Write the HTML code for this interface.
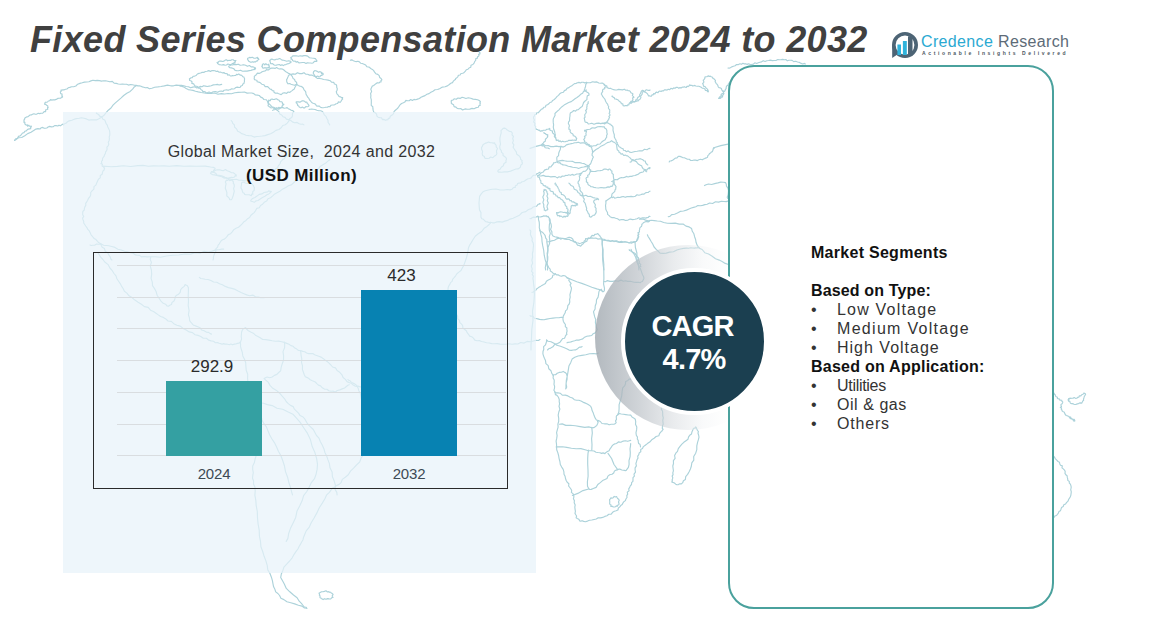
<!DOCTYPE html>
<html><head><meta charset="utf-8">
<style>
html,body{margin:0;padding:0;}
body{width:1162px;height:617px;position:relative;overflow:hidden;background:#fff;font-family:"Liberation Sans",sans-serif;}
.abs{position:absolute;}
#title{left:30px;top:19px;font-size:36px;font-weight:bold;font-style:italic;color:#404040;white-space:nowrap;letter-spacing:0.34px;}
#panel{left:63px;top:112px;width:473px;height:461px;background:rgba(232,242,250,0.72);}
#ct1{left:65px;width:473px;top:143px;letter-spacing:0.36px;text-align:center;font-size:16px;color:#333;white-space:nowrap;}
#ct2{left:65px;width:473px;top:166px;text-align:center;font-size:17px;letter-spacing:0.4px;font-weight:bold;color:#111;white-space:nowrap;}
#chart{left:93px;top:252px;width:413px;height:235px;border:1px solid #2a2a2a;}
.grid{position:absolute;left:117px;width:389px;height:1px;background:#d9dde0;}
.bar{position:absolute;}
.val{position:absolute;font-size:17px;color:#2a2a2a;text-align:center;width:120px;}
.yr{position:absolute;font-size:15px;color:#3d4a55;text-align:center;width:120px;letter-spacing:-0.2px;}
#card{left:728px;top:65px;width:322px;height:540px;border:2px solid #4aa19d;border-radius:26px;background:#fff;}
#seg{left:811px;top:243px;font-size:16px;color:#333;line-height:19.03px;white-space:nowrap;}
#seg b{font-weight:bold;}
#seg .it{position:relative;}
#seg .bl{display:inline-block;width:26px;}
#cres{left:595.1px;top:244.7px;width:185.6px;height:185.6px;border-radius:50%;background:linear-gradient(90deg,rgba(160,168,175,.8) 0%,rgba(185,191,197,.7) 22%,rgba(215,219,223,.55) 42%,rgba(240,242,244,.4) 58%,rgba(255,255,255,0) 72%);}
#ring{left:620.7px;top:268.2px;width:139px;height:139px;border-radius:50%;background:#1b3f50;border:4px solid #fff;}
#cagr1{left:622.5px;width:140px;top:309.5px;text-align:center;color:#fff;font-weight:bold;font-size:29px;letter-spacing:-0.8px;}
#cagr2{left:624px;width:140px;top:343px;text-align:center;color:#fff;font-weight:bold;font-size:29px;letter-spacing:-0.8px;}
#logo1{left:921px;top:33px;font-size:16px;white-space:nowrap;letter-spacing:0.35px;}
#logo2{left:922px;top:50px;font-size:5px;font-weight:bold;color:#4b5560;letter-spacing:2.63px;white-space:nowrap;}
</style></head>
<body>
<svg class="abs" id="map" style="left:0;top:0" width="1162" height="617" viewBox="0 0 1162 617"><g fill="none" stroke="#acd2da" stroke-width="1.15" stroke-linejoin="round" stroke-linecap="round"><path d="M14.5 140.5 L15.1 139.7 L15.9 138.7 L17.6 138.2 L18.4 136.4 L20.3 135.8 L21.5 134.4 L22.6 133.0 L24.1 132.6 L24.8 131.2 L26.3 130.9 L27.2 129.8 L28.3 129.1 L29.5 128.9 L30.7 128.7 L30.6 127.5 L30.9 127.3 L31.4 126.7 L31.2 126.0 L30.3 126.2 L29.5 126.2 L28.9 125.2 L27.6 126.2 L27.4 124.9 L26.3 125.1 L25.7 124.7 L25.1 124.2 L24.8 123.4 L24.9 122.4 L23.8 122.2 L24.1 121.3 L24.1 120.8 L23.9 120.0 L24.6 119.4 L24.7 118.2 L25.6 117.5 L26.7 116.9 L28.1 116.7 L29.0 115.8 L30.1 115.0 L31.4 114.9 L32.5 114.3 L33.9 113.8 L35.4 114.3 L36.8 114.1 L38.3 113.3 L39.7 113.6 L41.0 113.2 L42.4 113.3 L43.4 112.6 L44.1 111.5 L45.6 111.6 L45.7 109.9 L46.8 109.5 L47.8 109.1 L47.5 108.0 L48.2 107.5 L47.6 107.3 L47.9 106.2 L47.3 105.5 L46.4 105.2 L45.9 104.3 L44.7 104.3 L44.9 103.7 L44.7 103.3 L45.0 102.8 L45.5 102.2 L46.5 102.3 L47.5 102.0 L48.3 101.0 L49.6 100.8 L50.5 99.6 L51.9 100.1 L53.1 99.7 L54.7 99.9 L56.2 99.4 L57.7 98.4 L59.3 98.2 L60.8 98.3 L61.5 97.1 L62.6 97.1 L62.5 96.6 L62.3 96.1 L61.9 95.4 L62.1 94.0 L60.7 93.6 L60.4 92.7 L60.4 91.8 L61.1 91.5 L61.0 90.1 L62.0 90.1 L63.0 89.8 L64.3 89.8 L65.5 89.3 L66.9 89.0 L68.2 87.8 L69.8 87.4 L71.6 86.7 L73.7 86.7 L75.9 86.0 L77.7 84.2 L79.9 83.4 L82.2 82.8 L84.5 82.1 L86.7 82.0 L88.9 81.7 L90.9 80.9 L93.0 80.2 L95.2 80.6 L97.3 80.4 L99.4 80.6 L101.5 81.1 L103.6 80.8 L105.7 80.8 L107.8 81.2 L109.9 81.8 L112.3 81.4 L114.1 83.1 L116.3 83.4 L118.3 84.0 L120.4 84.3 L122.5 84.1 L124.6 84.3 L126.6 84.2 L128.5 85.1 L130.6 84.5 L132.5 84.8 L134.4 85.2 L136.2 85.4 L137.9 85.9 L139.5 85.9 L141.0 86.3 L142.4 86.9 L143.8 87.2 L145.4 87.8 L147.3 87.5 L149.4 88.8 L151.9 88.2 L154.7 87.2 L157.8 86.9 L161.0 86.5 L164.3 85.9 L167.5 85.1 L170.7 85.8 L173.5 85.8 L176.2 85.1 L178.8 85.4 L181.4 85.2 L183.8 85.7 L186.1 86.5 L188.4 86.8 L190.6 87.8 L192.8 87.1 L194.8 86.8 L196.8 88.0 L198.6 87.2 L200.2 86.4 L202.0 86.7 L203.6 85.7 L205.5 86.1 L207.3 86.5 L209.2 86.1 L211.2 85.7 L213.3 84.9 L215.3 84.8 L217.3 84.4 L219.1 85.0 L220.6 84.6 L221.7 84.4"/><path d="M136.1 85.8 L134.3 86.9 L132.6 89.2 L130.2 91.4 L126.8 93.2 L123.7 95.5 L120.9 98.1 L118.0 100.6 L115.4 102.9 L113.0 105.2 L111.0 108.0 L108.3 110.2 L106.1 112.7 L104.0 115.3 L101.5 117.3 L98.9 118.7 L96.5 119.9 L93.9 119.9 L91.5 119.7 L88.8 120.1 L86.4 118.9 L84.0 118.3 L81.5 117.8 L79.2 118.3 L77.2 118.5 L75.3 118.9 L73.6 119.5 L71.9 120.2 L70.1 120.6 L68.4 121.1 L67.2 122.0 L66.2 123.1 L65.0 123.5 L64.0 123.7 L63.8 124.9 L63.0 124.4 L62.5 124.2 L62.2 124.5 L61.7 124.7 L61.1 125.2 L60.3 125.8 L59.0 125.2 L57.8 126.0 L56.2 125.6 L54.6 125.6 L53.1 126.7 L51.4 126.9 L49.6 126.4 L48.1 127.0 L46.8 128.0 L45.5 128.2 L44.2 128.3 L42.7 127.4 L41.3 127.7 L40.0 129.0 L38.0 128.6 L35.9 129.1 L33.7 130.5 L31.0 132.3 L27.7 133.6 L24.8 135.7 L21.7 137.5 L18.3 137.8 L16.1 139.5 L14.5 140.5"/><path d="M190.3 78.4 L191.0 77.8 L192.2 77.6 L193.1 76.3 L194.7 76.1 L196.2 75.4 L197.4 74.0 L199.0 73.4 L200.6 73.0 L202.1 72.4 L203.8 72.4 L205.3 71.5 L207.1 71.3 L208.7 70.6 L210.5 71.4 L212.0 70.5 L213.6 70.6 L215.0 70.8 L216.3 71.5 L217.8 71.1 L218.9 72.2 L220.3 72.0 L221.5 72.5 L222.7 72.9 L224.1 72.6 L225.0 73.5 L226.2 73.6 L227.3 73.7 L227.8 75.2 L229.0 74.7 L229.8 75.4 L230.6 76.0 L231.6 75.9 L232.6 75.6 L233.6 75.7 L234.7 75.5 L235.8 75.5 L236.5 74.3 L237.6 74.7 L238.6 74.1 L239.5 74.2 L240.1 75.1 L241.0 75.1 L241.8 75.5 L242.4 76.2 L242.9 76.8 L243.9 77.0 L244.1 77.7 L244.5 78.4 L244.6 79.2 L244.4 80.1 L244.5 81.3 L244.2 82.3 L243.9 83.5 L242.8 84.1 L242.5 85.2 L241.7 85.7 L240.8 86.1 L240.0 87.5 L238.6 87.4 L237.2 87.1 L235.8 87.5 L234.5 88.7 L233.1 89.0 L231.7 88.8 L230.5 89.6 L229.3 89.8 L228.2 90.3 L226.7 89.9 L225.5 90.0 L224.1 90.2 L222.9 91.5 L221.3 91.0 L219.5 91.3 L217.6 92.3 L215.4 91.6 L213.2 91.7 L211.1 92.9 L209.1 92.0 L207.3 92.8 L205.8 92.6 L205.0 91.7 L204.1 91.6 L202.9 91.9 L202.7 91.1 L202.3 90.5 L201.7 90.1 L201.1 89.6 L200.5 88.9 L199.9 87.9 L198.4 88.1 L197.8 86.8 L196.6 86.3 L195.2 86.1 L194.4 85.1 L193.8 84.1 L192.9 83.6 L191.8 83.4 L192.1 81.8 L191.3 81.4 L191.1 80.7 L189.6 80.5 L189.6 79.7 L189.4 78.8 L190.3 78.4 Z"/><path d="M217.4 62.4 L218.1 62.5 L218.7 61.5 L219.8 61.0 L221.1 61.1 L222.6 61.5 L224.0 61.1 L225.2 60.1 L226.4 59.8 L227.7 60.8 L229.0 60.3 L230.4 60.5 L231.8 59.7 L233.1 59.7 L234.1 60.7 L235.0 60.5 L236.0 60.5 L235.1 61.0 L235.4 61.5 L235.0 61.7 L235.1 63.0 L233.9 62.6 L233.6 64.1 L232.4 63.4 L231.6 64.3 L230.6 64.6 L229.4 64.5 L227.9 64.0 L226.5 65.0 L225.0 65.2 L223.6 64.6 L222.3 64.9 L221.2 65.0 L220.3 64.8 L219.4 64.7 L218.7 64.2 L218.0 63.8 L217.5 63.5 L217.7 62.9 L217.0 62.5 L217.4 62.4 Z"/><path d="M229.1 66.0 L229.7 65.7 L230.8 65.0 L232.4 65.0 L234.2 64.4 L236.2 64.6 L238.3 64.2 L240.2 65.2 L242.0 65.0 L243.7 64.7 L245.6 65.3 L247.4 66.3 L249.5 65.5 L251.1 66.9 L252.8 66.7 L254.0 67.2 L254.6 67.9 L255.5 67.8 L255.6 68.3 L255.4 68.5 L255.0 68.5 L255.0 69.6 L254.1 69.2 L253.3 69.7 L252.3 69.9 L250.9 70.4 L249.2 70.6 L247.1 71.1 L244.9 71.1 L242.6 71.2 L240.5 70.2 L238.4 70.7 L236.7 70.6 L235.1 70.4 L234.0 68.9 L232.6 68.3 L231.3 67.9 L229.9 67.8 L229.1 67.1 L228.7 66.4 L229.1 66.0 Z"/><path d="M247.6 58.3 L248.4 58.0 L249.5 57.4 L250.9 57.6 L252.4 57.3 L254.0 58.2 L255.4 58.2 L256.6 57.7 L257.6 57.4 L257.4 58.4 L258.5 58.3 L258.5 58.8 L258.9 59.5 L258.2 59.8 L257.8 60.2 L257.4 60.6 L257.1 61.2 L256.3 61.0 L255.6 61.9 L254.5 61.7 L253.4 62.1 L252.3 61.7 L251.3 62.2 L250.3 62.1 L249.6 61.6 L248.9 61.4 L248.6 60.7 L248.1 60.3 L247.9 59.7 L247.5 59.3 L247.5 59.0 L247.6 59.0 L247.6 58.3 Z"/><path d="M262.6 64.2 L263.1 63.9 L263.9 63.8 L264.8 64.8 L265.9 63.7 L266.8 64.6 L267.7 64.7 L268.8 64.2 L268.7 65.3 L268.8 65.5 L269.3 65.7 L269.2 66.1 L269.0 66.4 L269.7 67.3 L268.9 67.5 L268.6 67.8 L268.2 67.6 L267.8 67.8 L267.2 67.8 L266.5 68.2 L265.8 67.7 L265.0 67.9 L264.3 67.7 L263.4 68.1 L262.7 68.0 L262.4 67.5 L262.3 66.9 L261.8 66.5 L262.6 65.7 L262.2 65.3 L262.3 64.9 L262.4 64.6 L262.6 64.2 Z"/><path d="M254.9 75.8 L255.7 75.3 L256.5 74.4 L257.4 73.1 L259.2 73.4 L260.7 72.7 L262.1 71.8 L263.7 71.2 L265.3 70.9 L266.5 69.6 L268.4 70.0 L269.9 68.8 L271.5 68.1 L273.3 68.0 L275.0 68.4 L276.6 67.6 L278.1 68.4 L279.4 69.0 L280.9 68.7 L282.4 69.1 L283.6 69.8 L284.7 70.8 L285.9 71.7 L287.2 72.4 L288.3 73.4 L290.0 73.9 L291.2 75.2 L292.4 76.6 L293.0 78.4 L294.6 79.5 L295.1 81.1 L296.5 82.2 L296.8 83.5 L296.5 84.8 L295.8 85.7 L295.3 86.7 L294.7 87.8 L294.3 89.1 L293.1 89.8 L292.1 90.6 L291.0 91.4 L289.9 92.4 L288.1 92.0 L286.6 93.4 L284.6 92.7 L282.8 93.1 L281.2 94.6 L279.5 94.0 L278.2 93.5 L277.2 93.0 L275.9 93.3 L274.8 92.9 L274.0 92.2 L273.8 90.7 L272.3 90.7 L271.6 89.4 L270.1 89.2 L268.9 87.9 L267.5 86.5 L265.2 86.6 L263.8 84.7 L261.8 84.2 L260.4 82.8 L258.8 82.1 L257.2 81.8 L256.9 80.3 L255.8 80.0 L254.6 79.6 L254.1 78.8 L254.4 77.8 L254.3 77.2 L254.3 76.4 L254.9 75.8 Z"/><path d="M288.4 75.8 L289.5 74.7 L291.2 74.4 L293.1 73.9 L295.3 74.2 L297.4 72.7 L299.7 73.6 L301.9 73.6 L304.0 72.7 L305.7 74.1 L307.7 74.3 L309.5 75.1 L311.8 75.1 L313.7 76.0 L315.6 76.8 L317.2 78.4 L319.4 78.5 L321.5 78.8 L323.6 79.5 L325.9 79.8 L328.1 80.1 L330.2 80.7 L331.7 82.3 L333.8 82.4 L334.4 84.0 L336.1 84.5 L336.7 85.8 L336.7 87.3 L337.3 88.7 L337.1 90.2 L336.3 91.6 L336.6 93.0 L337.1 94.1 L338.0 94.9 L338.6 96.0 L339.5 96.7 L340.7 96.9 L341.4 97.6 L342.7 97.5 L342.3 98.5 L342.7 99.1 L342.1 99.5 L341.6 100.2 L341.0 101.3 L340.1 102.3 L338.3 101.9 L337.6 103.5 L336.1 103.7 L335.0 104.4 L333.9 105.0 L332.4 105.0 L331.0 105.2 L330.0 106.6 L328.5 106.5 L327.3 107.3 L325.9 107.2 L324.6 107.5 L323.2 107.7 L321.9 107.6 L320.5 107.3 L319.4 106.0 L317.9 106.1 L316.5 106.0 L315.7 104.5 L314.7 103.7 L313.1 103.3 L311.7 102.5 L310.7 101.2 L309.6 100.0 L308.9 98.4 L307.7 97.2 L307.0 95.8 L306.2 94.6 L305.9 93.2 L305.7 91.9 L305.0 90.8 L304.1 89.9 L303.6 88.8 L303.1 87.8 L302.2 87.0 L301.3 86.4 L299.9 86.2 L298.3 85.5 L296.6 84.3 L294.5 85.3 L292.7 84.7 L291.0 84.3 L289.7 83.6 L288.1 83.8 L287.4 83.0 L286.8 82.0 L286.7 80.8 L286.6 79.7 L287.3 78.7 L287.5 77.8 L288.0 77.0 L288.4 75.8 Z"/><path d="M270.4 60.3 L270.9 59.4 L271.9 59.1 L273.3 59.8 L274.8 59.9 L276.2 59.2 L277.8 59.3 L279.4 58.5 L280.7 59.1 L282.0 60.1 L283.6 60.2 L285.2 60.7 L286.8 61.2 L288.6 60.8 L289.9 61.1 L290.9 61.6 L291.0 62.4 L290.8 62.6 L290.2 62.6 L289.4 63.3 L288.4 63.7 L287.1 63.9 L285.8 64.6 L284.5 64.7 L283.3 65.6 L282.0 64.7 L280.7 65.5 L279.3 64.5 L277.8 64.8 L276.3 65.1 L274.9 65.2 L273.8 64.8 L273.0 64.0 L272.3 63.6 L271.1 63.8 L270.4 63.2 L270.4 62.3 L270.2 61.7 L269.8 61.1 L269.7 60.4 L270.4 60.3 Z"/><path d="M291.0 57.2 L291.8 57.0 L292.8 55.8 L294.5 55.9 L296.3 55.8 L298.3 56.3 L300.3 55.8 L302.1 56.1 L303.9 55.6 L305.8 55.6 L307.7 56.1 L309.5 57.7 L311.6 58.0 L313.6 58.2 L315.4 58.6 L316.2 59.8 L316.6 60.4 L317.0 60.9 L316.6 61.5 L315.6 61.4 L314.4 61.4 L313.4 62.7 L312.0 63.2 L310.5 63.0 L309.1 63.0 L307.7 62.7 L306.0 63.4 L304.3 62.5 L302.5 62.5 L300.7 62.7 L298.9 62.9 L297.6 61.6 L296.1 62.1 L295.2 61.0 L293.7 61.2 L292.6 60.6 L292.2 59.3 L291.0 59.1 L291.5 58.1 L290.7 57.7 L291.0 57.2 Z"/><path d="M314.3 71.2 L314.8 70.6 L315.7 70.7 L316.7 71.1 L317.7 71.7 L318.7 72.3 L320.1 71.6 L320.9 72.3 L321.7 72.4 L321.4 73.5 L322.7 73.2 L323.1 73.7 L323.2 74.3 L322.8 74.8 L322.0 74.9 L322.0 75.1 L321.9 75.5 L321.3 75.4 L320.6 75.7 L319.9 76.7 L318.9 77.0 L317.9 76.1 L317.0 76.3 L315.9 77.2 L315.7 76.2 L314.9 76.0 L314.5 75.4 L314.1 74.6 L313.6 73.8 L313.2 72.9 L313.6 72.1 L313.8 71.4 L314.3 71.2 Z"/><path d="M267.8 101.6 L268.6 101.6 L268.7 100.1 L270.2 100.7 L270.9 99.3 L272.1 99.1 L273.4 99.5 L274.5 99.4 L275.5 99.0 L276.8 98.8 L277.8 99.8 L279.1 100.3 L279.9 101.7 L281.6 101.7 L282.4 102.7 L282.4 103.8 L283.9 104.2 L283.4 104.9 L282.6 105.1 L282.2 105.7 L282.0 107.1 L281.1 107.6 L280.1 108.0 L278.8 107.3 L278.2 108.4 L277.2 107.9 L276.2 107.8 L275.2 108.6 L274.0 108.6 L273.1 107.5 L272.0 107.8 L271.0 108.0 L270.5 107.1 L269.5 107.0 L268.9 106.4 L268.0 105.7 L268.4 104.5 L268.3 103.6 L267.8 103.0 L268.2 102.4 L267.8 101.6 Z"/><path d="M296.2 102.9 L296.2 101.9 L297.1 101.8 L298.2 101.8 L299.5 102.1 L300.7 101.9 L301.9 100.9 L303.0 100.7 L304.0 101.0 L304.8 101.4 L305.4 102.3 L306.9 102.1 L307.2 103.4 L308.0 104.0 L308.4 104.7 L308.7 105.0 L309.0 105.4 L308.8 106.1 L308.1 106.5 L307.1 106.8 L305.8 106.6 L304.7 107.8 L303.4 107.8 L302.3 107.1 L301.2 107.7 L300.2 107.6 L299.2 107.1 L298.7 106.0 L297.6 105.5 L297.6 104.2 L297.0 103.7 L296.9 103.4 L296.2 102.9 Z"/><path d="M180.0 86.1 L181.2 86.3 L182.8 86.6 L184.4 87.3 L186.1 88.6 L188.2 89.6 L190.5 90.0 L193.0 90.4 L195.5 91.2 L198.2 91.9 L201.2 92.5 L204.4 93.0 L207.7 93.5 L211.2 93.5 L214.6 93.0 L218.0 94.2 L221.3 93.6 L224.6 94.0 L228.0 93.5 L231.5 93.7 L234.8 92.7 L238.2 92.4 L241.4 92.2 L244.4 92.0 L247.1 93.1 L249.6 93.0 L251.8 93.0 L253.8 93.6 L255.4 95.0 L257.4 95.1 L259.3 95.5 L260.7 97.1 L262.5 97.9 L263.9 99.5 L266.4 99.8 L267.7 101.7 L268.9 103.6 L270.5 105.2 L272.0 106.8 L274.4 107.5 L275.7 109.2 L277.5 110.4 L279.0 111.9 L279.8 114.1 L281.7 115.0 L283.0 116.7 L285.1 117.4 L286.4 119.1 L288.5 119.6 L290.5 120.3 L292.4 121.9 L294.6 122.8 L297.1 122.4 L299.1 123.7 L301.0 124.2 L302.8 124.1 L303.9 124.9"/><path d="M309.1 109.4 L310.1 109.3 L311.6 109.1 L313.2 109.3 L315.1 109.5 L316.9 110.3 L318.8 110.7 L320.7 110.8 L322.5 111.5 L323.5 113.0 L324.3 114.9 L326.0 116.4 L326.9 118.5 L328.0 120.3 L328.1 122.5 L329.1 123.8 L329.7 124.9"/><path d="M350.4 60.3 L351.3 59.9 L352.3 60.1 L353.4 60.7 L354.7 61.2 L356.2 61.6 L357.9 61.3 L359.4 61.9 L360.6 63.2 L362.3 63.5 L364.0 64.2 L365.7 65.1 L367.0 66.8 L369.2 67.1 L370.7 68.5 L372.4 69.4 L373.7 70.6 L374.6 72.2 L375.8 73.7 L377.8 74.4 L379.2 75.7 L379.7 77.5 L381.1 78.5 L381.9 79.8 L380.9 80.7 L381.1 81.9 L380.0 82.0 L378.9 83.0 L377.3 82.7 L375.9 83.7 L374.7 84.6 L373.7 85.5 L372.3 86.1 L371.6 87.6 L370.8 89.3 L371.6 91.4 L370.6 93.4 L370.9 95.6 L370.7 97.7 L371.3 99.7 L371.3 101.6 L371.3 103.4 L371.2 105.4 L372.8 106.8 L372.9 108.7 L373.2 110.6 L373.9 112.3 L375.6 113.1 L376.6 114.2 L376.9 116.1 L378.1 117.2 L379.8 117.6 L381.5 117.8 L382.4 119.6 L384.0 119.4 L385.3 120.3 L386.6 119.9 L387.9 119.8 L388.3 118.4 L389.8 118.1 L390.1 116.6 L391.2 115.5 L392.6 114.7 L393.6 113.5 L394.0 111.7 L395.1 110.5 L396.5 109.3 L397.9 108.0 L399.0 106.4 L400.1 104.7 L401.6 103.5 L403.4 102.8 L404.8 102.1 L405.9 100.4 L407.6 100.7 L409.2 100.7 L410.7 99.5 L412.4 100.5 L414.0 99.4 L415.8 99.7 L417.5 99.1 L419.4 98.5 L421.0 97.2 L423.0 96.4 L425.0 95.6 L426.9 94.3 L429.0 93.6 L430.9 92.2 L433.0 91.2 L435.0 89.7 L437.7 89.5 L440.0 88.4 L442.4 87.1 L445.1 86.8 L447.4 85.9 L449.3 84.5 L450.8 83.2 L452.5 82.6 L453.3 81.2 L454.2 80.3 L455.4 79.6 L455.7 78.4 L456.9 77.7 L457.8 76.8 L458.4 75.3 L460.1 75.0 L461.0 73.5 L462.8 73.3 L464.2 72.4 L465.4 71.2 L466.3 69.7 L468.0 69.2 L469.0 68.0 L470.8 67.3 L471.0 65.2 L472.9 64.5 L474.1 63.1 L474.7 61.5 L475.7 60.3 L475.8 58.6 L477.5 58.1 L477.5 56.8 L478.6 56.3 L479.0 55.5 L478.5 54.3 L479.6 54.1 L480.1 53.7 L479.3 52.6 L480.0 52.6"/><path d="M451.1 101.1 L451.6 100.3 L452.9 100.1 L454.1 98.8 L456.2 99.3 L458.0 98.0 L460.1 98.4 L462.1 97.3 L464.0 97.8 L465.9 98.5 L468.3 97.8 L470.7 98.2 L473.1 99.1 L475.4 99.4 L477.6 99.7 L479.2 100.6 L480.4 101.4 L479.9 102.4 L480.4 103.1 L479.9 103.8 L480.2 105.4 L478.8 105.7 L478.3 107.3 L476.9 107.5 L475.6 107.9 L474.1 108.7 L472.0 108.4 L469.8 109.1 L467.4 109.3 L465.0 108.9 L462.6 110.0 L460.7 108.5 L458.9 108.7 L457.2 108.4 L456.0 107.1 L454.1 106.6 L453.6 104.8 L452.2 104.0 L451.2 103.0 L451.4 102.0 L451.1 101.1 Z"/><path d="M96.3 113.0 L97.2 113.7 L98.6 114.4 L99.6 116.1 L101.8 116.7 L102.6 118.9 L104.7 119.9 L105.5 121.8 L106.1 123.6 L107.3 125.1 L107.8 127.0 L108.8 128.9 L109.6 130.9 L109.8 133.0 L109.8 135.1 L109.2 137.0 L109.4 138.9 L109.1 140.7 L108.2 142.2 L108.8 144.2 L108.1 145.8 L106.9 147.2 L107.1 149.1 L106.6 150.6 L105.6 151.9 L105.4 153.5 L104.5 154.9 L104.1 156.4 L103.0 157.6 L102.5 158.9 L102.5 160.3 L101.6 161.2 L101.5 162.3 L101.9 163.0 L100.9 163.8 L101.9 164.0 L102.2 164.3 L102.5 164.6 L102.2 165.4 L102.1 165.9 L102.4 166.3 L103.1 166.5 L103.5 166.6 L104.2 166.7 L103.8 167.6 L104.2 167.9 L104.6 168.4 L104.2 169.1 L104.2 170.1 L103.0 170.9 L102.5 172.4 L102.1 174.3 L100.3 175.5 L100.2 177.9 L98.4 179.3 L97.5 181.3 L96.6 183.2 L95.9 185.1 L94.0 186.6 L93.9 189.1 L92.2 190.7 L90.7 192.5 L90.7 195.0 L89.8 196.9 L88.4 198.5 L87.7 200.3 L86.7 201.9 L85.7 203.4 L85.8 205.4 L84.9 206.9 L84.4 208.4 L84.3 210.0 L82.8 211.5 L82.7 213.1 L82.7 214.8 L83.7 216.4 L82.6 218.1 L83.0 219.7 L83.7 221.2 L83.7 223.0 L84.7 224.5 L85.7 226.0 L86.9 227.6 L87.8 229.4 L89.3 230.9 L90.2 232.8 L91.1 234.8 L92.4 236.3 L93.4 237.8 L94.5 238.8 L95.9 239.4 L96.6 240.5 L97.6 241.2 L98.2 242.3 L99.4 243.0 L100.7 243.8 L101.3 245.4 L102.2 247.2 L104.5 248.6 L105.2 251.2 L107.7 252.7 L108.9 255.1 L110.3 257.0 L110.8 259.0 L111.9 260.0"/><path d="M102.8 166.1 L111.4 166.7 L117.4 166.4 L123.4 165.7 L130.7 166.5 L137.9 165.6 L143.1 165.4 L148.3 166.3 L153.5 165.9 L158.8 166.0 L164.0 165.9 L169.3 166.3 L176.6 165.6 L183.9 166.2 L190.1 166.0 L196.3 166.3 L205.3 166.1 L210.6 167.0 L213.7 167.4 L215.1 168.2 L215.0 169.3 L213.8 169.9 L213.5 171.2 L212.0 172.2 L213.3 172.2 L214.7 172.8 L216.0 173.6 L216.9 175.3 L218.8 175.3 L220.5 175.6 L222.3 176.1 L224.1 176.7 L225.9 178.1 L228.2 178.5 L230.7 179.1 L233.4 179.6 L236.3 179.2 L239.0 180.2 L241.7 180.2 L244.4 180.9 L246.8 180.8 L249.1 180.7 L250.9 179.1 L253.3 179.5 L255.2 178.8 L257.1 178.1 L258.5 176.2 L260.4 175.5 L262.1 174.7 L263.9 174.0 L266.0 174.5 L267.7 173.9 L269.3 173.1 L271.1 172.8 L272.5 171.9 L273.8 170.7 L274.9 169.6 L276.0 168.6 L277.8 167.9 L278.1 166.2 L279.1 164.9 L280.1 163.5 L280.5 161.8 L281.7 160.6 L282.8 159.4 L284.4 158.7 L285.2 157.3 L286.4 156.1 L288.1 155.8 L289.0 154.3 L290.7 153.8 L291.9 152.7 L293.2 151.2 L295.2 151.2 L297.3 150.7 L299.6 150.8 L301.8 149.9 L304.1 150.1 L306.1 149.7 L307.7 149.1 L309.0 149.3"/><path d="M210.4 173.1 L210.9 173.1 L211.5 171.5 L213.3 171.9 L215.0 170.5 L217.2 169.8 L219.5 169.8 L221.6 170.4 L223.3 170.7 L225.4 169.6 L227.2 170.8 L229.3 171.5 L231.2 172.6 L233.4 172.7 L234.8 173.9 L236.0 174.5 L235.9 175.1 L236.4 176.0 L235.3 175.6 L234.5 177.0 L233.0 177.5 L231.3 177.2 L229.5 177.7 L227.7 178.4 L226.0 177.6 L224.0 178.1 L221.9 176.7 L219.4 176.3 L216.9 175.4 L214.5 174.9 L212.4 174.6 L211.0 173.8 L210.4 173.1 Z"/><path d="M226.0 180.9 L226.5 180.1 L227.5 180.5 L228.7 179.3 L229.7 180.6 L231.5 179.9 L232.5 180.8 L233.5 181.8 L233.2 183.1 L234.1 184.4 L234.3 186.4 L233.6 188.6 L234.3 191.1 L233.7 193.5 L233.2 195.6 L232.6 197.3 L232.2 198.3 L231.9 199.0 L231.4 199.7 L230.6 199.7 L229.6 199.6 L229.5 198.3 L228.6 197.8 L228.1 196.9 L226.8 196.1 L226.8 194.6 L226.9 192.6 L226.2 190.5 L225.3 188.2 L225.6 185.9 L226.1 183.8 L225.3 182.0 L226.0 180.9 Z"/><path d="M241.6 183.0 L242.4 182.2 L243.8 182.3 L245.4 183.0 L247.2 183.5 L249.3 183.1 L251.1 183.7 L252.5 184.6 L253.4 185.5 L253.7 186.5 L254.4 187.6 L254.2 189.0 L254.2 190.5 L252.8 191.5 L252.7 192.8 L252.9 194.3 L251.6 194.1 L251.4 195.6 L250.3 195.4 L249.3 194.7 L248.2 194.8 L247.1 194.7 L245.8 194.7 L244.6 194.4 L244.3 193.3 L243.0 192.7 L242.4 191.3 L242.0 189.6 L241.0 188.1 L241.1 186.4 L241.5 184.9 L241.4 183.9 L241.6 183.0 Z"/><path d="M251.9 199.1 L253.1 198.3 L254.9 197.4 L257.0 196.1 L259.2 194.4 L261.9 193.9 L264.0 192.5 L266.2 192.1 L267.6 191.9 L268.6 190.9 L269.5 191.1 L270.1 191.4 L270.8 191.3 L271.4 191.7 L270.7 192.0 L270.3 192.4 L269.9 193.1 L268.8 193.9 L266.9 194.8 L264.9 196.3 L262.5 197.6 L260.2 199.1 L258.0 200.5 L255.9 200.9 L254.6 202.2 L253.5 202.0 L252.6 201.5 L252.0 201.5 L251.4 201.3 L250.7 200.9 L250.9 200.3 L251.3 199.7 L251.9 199.1 Z"/><path d="M330.0 159.7 L328.2 160.8 L326.2 162.7 L323.3 164.5 L320.1 166.5 L317.7 169.6 L314.2 171.3 L311.3 173.2 L309.1 175.3 L306.8 176.5 L304.6 177.0 L303.2 179.1 L301.2 179.2 L299.6 180.5 L297.4 180.5 L295.3 181.3 L293.4 183.0 L291.3 184.9 L288.4 185.8 L285.8 187.4 L282.9 188.9 L280.3 190.9 L277.5 192.4 L274.8 193.9 L272.7 195.9 L270.5 197.7 L268.0 198.7 L266.6 201.1 L264.2 202.3 L262.6 204.2 L260.5 205.4 L259.3 207.7 L256.7 208.4 L255.5 210.7 L254.2 212.6 L252.4 214.0 L250.7 215.5 L249.6 217.5 L247.6 218.7 L246.0 220.4 L244.0 221.7 L242.4 223.7 L240.5 225.5 L238.5 227.2 L236.0 228.3 L233.8 229.7 L232.2 231.8 L230.6 233.7 L228.3 234.6 L227.1 236.4 L225.8 237.8 L224.4 239.1 L222.5 239.7 L221.2 240.8 L220.2 242.3 L219.3 243.8 L218.1 245.2 L217.6 247.1 L215.8 248.8 L215.9 251.2 L214.8 253.2 L213.9 255.3 L213.4 257.1 L213.4 258.9 L213.0 260.0"/><path d="M231.2 120.7 L232.2 121.7 L232.7 123.4 L234.3 124.8 L234.7 127.3 L236.6 128.9 L237.7 131.3 L239.9 132.2 L241.6 133.6 L243.8 134.3 L246.0 135.3 L248.7 135.6 L251.3 135.8 L254.1 137.1 L256.9 136.5 L259.6 136.3 L262.2 136.0 L265.0 135.6 L267.7 134.6 L270.6 133.7 L273.4 132.3 L275.9 130.4 L278.9 129.5 L281.2 127.8 L282.7 125.5 L285.3 124.7 L287.2 123.1 L288.8 121.2 L289.6 118.8 L291.7 117.6 L292.5 115.8 L292.4 114.1 L292.7 113.0 L293.9 111.6 L293.0 110.8 L291.9 110.4 L290.8 109.9 L289.6 109.3 L288.3 108.7 L287.1 107.6 L285.6 108.0 L284.2 108.2 L282.4 107.4 L280.5 107.9 L278.8 109.2 L276.7 108.7 L275.1 109.6 L273.6 109.7 L272.7 110.4"/><path d="M98.1 253.1 L99.2 254.8 L100.7 257.1 L102.9 259.5 L105.1 262.3 L108.1 264.6 L109.9 268.0 L112.3 270.7 L114.0 273.5 L116.0 275.9 L116.9 278.7 L118.6 281.2 L120.2 283.6 L121.5 286.1 L123.1 288.5 L124.4 291.3 L126.9 293.1 L129.0 295.8 L132.0 297.6 L134.9 300.1 L138.1 302.2 L141.4 304.2 L144.4 306.6 L148.2 307.4 L150.5 310.2 L153.5 311.5 L156.0 313.2 L158.3 314.9 L160.6 316.5 L163.4 317.4 L165.8 318.9 L168.0 321.0 L171.3 321.4 L173.8 323.7 L176.8 325.3 L180.3 326.1 L183.1 328.4 L186.2 330.1 L189.2 331.9 L192.5 332.6 L195.0 334.7 L198.1 335.4 L200.8 336.5 L203.3 338.2 L206.4 338.2 L208.6 340.1 L211.1 340.9 L213.5 341.3 L215.4 342.7 L217.5 342.6 L219.2 343.2 L220.7 343.6 L222.1 344.2 L223.5 343.6 L224.9 344.1 L226.2 344.1 L227.7 344.3 L229.3 344.7 L230.9 344.0 L232.6 344.8 L234.3 344.1 L235.9 344.0 L237.3 343.4 L238.7 343.1 L240.4 342.5 L240.9 340.9 L241.6 339.0 L241.2 336.7 L241.4 334.3 L241.6 332.0 L242.3 330.2 L243.0 328.9 L243.9 328.4 L245.6 327.6 L246.7 329.2 L248.4 330.7 L250.7 332.0 L253.3 333.2 L255.4 335.2 L257.9 336.4 L260.2 337.7 L262.7 339.5 L265.8 339.6 L269.0 340.1 L272.2 340.7 L275.5 341.2 L278.7 341.1 L281.7 341.7 L284.3 342.4 L286.7 343.4 L289.0 344.3 L290.9 345.6 L293.2 346.3 L294.8 348.1 L296.8 349.1 L298.5 350.5 L300.8 350.6 L302.7 351.4 L304.8 351.7 L306.6 353.0 L308.6 353.6 L310.7 353.5 L312.8 353.6 L314.6 354.8 L316.6 355.5 L318.8 356.3 L321.0 357.1 L323.0 358.4 L325.0 360.0 L327.1 361.4 L329.0 363.1 L330.9 365.0 L332.6 367.0 L335.5 367.9 L337.1 370.5 L339.7 372.3 L341.8 374.6 L343.1 377.5 L345.4 379.4 L347.0 381.6 L349.3 382.6 L351.2 383.2 L352.4 384.4 L353.7 385.2 L354.9 386.0 L356.2 386.4 L357.9 386.1 L359.5 386.6 L361.6 387.1 L363.5 388.9 L366.5 389.9 L369.5 391.4 L372.6 393.0 L375.5 394.6 L377.7 396.9 L380.3 397.5 L381.6 398.9"/><path d="M150.8 257.2 L150.2 259.4 L151.4 262.4 L150.3 266.1 L151.4 270.0 L151.7 274.2 L151.1 278.4 L152.3 282.1 L152.5 285.6 L154.4 288.4 L156.1 291.5 L157.1 295.2 L159.1 298.2 L161.0 301.1 L163.2 303.3 L165.6 304.2 L166.9 305.9 L168.5 306.2 L169.7 305.3 L171.5 304.5 L172.0 302.4 L174.0 301.1 L174.9 299.0 L175.3 296.7 L176.6 295.2 L178.6 294.2 L180.2 292.3 L180.7 289.6 L182.4 287.7 L184.2 286.4 L185.1 284.6 L186.0 285.1 L187.2 285.5 L188.4 287.6 L188.4 291.2 L188.2 295.6 L188.5 300.6 L188.2 305.7 L189.1 310.5 L188.4 314.8 L189.4 317.9 L189.6 320.2 L190.3 321.7 L191.2 322.6 L191.9 323.3 L192.5 324.4 L193.4 325.1 L194.6 325.5 L196.1 326.1 L197.9 326.8 L200.0 327.7 L201.6 330.0 L204.1 330.8 L206.3 332.1 L208.6 332.4 L210.2 333.6 L211.5 334.1"/><path d="M199.4 277.4 L200.7 278.5 L202.8 278.8 L205.2 279.2 L208.0 279.5 L210.9 280.5 L213.6 282.0 L216.8 282.3 L219.5 283.7 L222.4 284.7 L225.3 286.4 L228.4 287.6 L231.9 288.4 L235.2 289.4 L238.1 291.1 L241.1 292.5 L243.9 293.7 L246.7 294.9 L249.6 295.7 L252.8 295.1 L255.5 296.7 L258.2 297.1 L260.5 297.6 L262.6 297.5 L264.2 297.7"/><path d="M239.9 342.2 L240.6 343.9 L240.5 346.5 L241.3 349.3 L242.3 352.4 L242.8 355.9 L244.5 359.2 L245.7 362.8 L245.9 366.5 L246.2 370.3 L247.7 374.2 L247.6 378.5 L248.0 382.8 L249.6 386.9 L249.9 391.2 L250.7 395.3 L252.1 398.9 L253.6 402.1 L254.8 405.2 L255.6 408.4 L257.1 411.3 L259.1 413.8 L261.2 416.5 L262.0 420.0 L263.8 423.4 L266.3 426.6 L267.9 430.6 L269.6 434.7 L271.8 438.7 L274.4 442.6 L276.5 446.8 L278.4 451.2 L280.8 455.5 L282.6 460.3 L284.4 465.7 L285.5 471.6 L287.6 477.2 L288.9 482.8 L290.6 487.6 L291.6 491.8 L292.5 494.9"/><path d="M284.4 342.2 L284.7 344.6 L284.6 347.8 L283.0 351.6 L283.6 355.9 L283.5 360.2 L282.1 364.2 L281.1 367.6 L280.7 370.8 L278.7 372.5 L276.9 374.4 L274.4 375.4 L272.2 377.0 L269.7 377.7 L267.2 377.0 L265.3 377.7 L264.2 378.7"/><path d="M300.6 351.1 L300.9 353.0 L301.1 355.7 L301.8 358.8 L301.5 362.4 L302.5 365.8 L302.4 369.4 L303.4 372.3 L304.3 374.8 L305.3 376.8 L307.3 377.6 L308.8 378.5 L310.2 379.7 L311.8 380.5 L313.6 381.2 L315.3 382.0 L316.8 383.6 L318.4 385.1 L320.6 385.9 L322.3 387.8 L324.4 389.1 L327.0 389.2 L328.8 390.8 L331.0 391.2 L333.0 391.1 L335.3 392.0 L337.3 390.5 L339.8 389.9 L342.2 388.9 L344.6 388.0 L346.4 386.5 L347.9 385.2 L349.2 384.7"/><path d="M264.2 378.7 L265.8 380.2 L268.2 382.1 L270.0 385.4 L272.8 388.3 L276.5 390.4 L279.6 393.2 L282.2 396.2 L284.6 398.8 L286.2 401.5 L288.3 403.6 L290.5 405.4 L293.2 406.6 L294.4 409.2 L296.4 411.1 L298.5 413.1 L300.1 415.6 L303.1 417.0 L305.1 419.4 L306.6 422.3 L308.5 424.9 L310.8 427.1 L313.3 429.5 L314.9 432.5 L316.5 435.5 L319.0 438.2 L320.4 441.7 L322.2 445.1 L323.9 448.7 L324.9 452.5 L326.7 456.1 L328.0 459.9 L329.4 463.6 L330.0 467.8 L332.1 471.9 L332.4 476.6 L334.2 481.0 L335.4 485.2 L335.1 489.4 L336.8 492.4 L337.1 494.9"/><path d="M90.0 245.0 L91.2 245.5 L92.8 245.3 L94.6 245.2 L96.6 244.0 L98.8 244.3 L101.2 243.9 L103.6 245.2 L106.1 245.5 L108.8 245.8 L111.8 246.5 L115.0 247.4 L117.9 249.2 L121.3 250.0 L124.5 251.3 L127.7 251.7 L130.6 252.7 L133.3 253.3 L135.2 254.9 L137.3 255.3 L139.5 255.4 L141.5 256.9 L144.1 256.5 L147.1 256.9 L150.7 256.7 L155.2 256.7 L160.6 257.2 L166.4 256.0 L172.5 255.2 L178.7 255.0 L184.7 254.0 L190.4 254.2 L195.2 252.6 L199.9 253.2 L204.1 251.4 L208.4 252.0 L212.3 251.1 L215.7 249.9 L218.9 249.7 L221.5 249.1 L223.7 249.1"/><path d="M502.3 129.4 L503.1 128.4 L504.4 128.1 L505.8 128.5 L506.8 129.8 L508.2 130.6 L509.5 131.4 L511.5 131.8 L512.3 133.2 L512.0 134.9 L513.5 136.5 L512.7 138.5 L513.4 140.6 L512.5 142.9 L513.9 144.9 L513.1 147.2 L514.1 148.8 L515.1 150.3 L516.3 151.8 L516.6 154.0 L518.2 155.2 L519.7 156.4 L520.5 158.0 L520.7 159.5 L522.1 160.5 L521.8 161.8 L522.4 162.9 L522.2 164.1 L521.1 164.8 L520.7 165.7 L520.4 167.1 L519.4 168.1 L518.0 168.9 L515.9 169.0 L513.4 170.0 L510.6 171.1 L507.5 171.9 L504.3 171.9 L501.7 172.2 L499.7 172.1 L498.5 172.2 L497.8 171.3 L498.3 170.0 L500.1 169.2 L501.3 167.3 L503.3 165.8 L504.0 163.5 L506.1 162.3 L505.9 160.6 L506.5 159.0 L505.9 157.6 L504.6 156.5 L503.1 155.6 L503.0 153.5 L501.5 152.4 L501.3 150.6 L500.0 148.9 L499.7 146.7 L500.5 144.0 L500.0 141.1 L499.9 138.2 L500.5 135.3 L501.2 132.9 L501.0 130.5 L502.3 129.4 Z"/><path d="M482.8 145.0 L483.7 144.2 L485.0 143.4 L486.6 142.9 L488.4 142.0 L490.2 142.6 L491.9 142.8 L493.2 143.1 L494.7 142.9 L495.0 144.1 L496.1 145.2 L496.2 146.9 L497.5 148.5 L496.6 150.4 L496.5 152.0 L496.9 153.6 L496.4 154.7 L495.5 155.6 L494.2 156.3 L492.8 157.7 L490.7 157.0 L489.1 158.3 L487.3 158.5 L485.6 158.4 L484.5 157.7 L484.4 156.4 L482.6 155.4 L482.2 153.6 L482.6 151.5 L481.7 149.6 L481.5 147.6 L482.5 146.2 L482.8 145.0 Z"/><path d="M540.0 172.2 L539.1 172.6 L538.1 173.3 L536.7 173.8 L535.7 175.3 L533.7 175.2 L532.3 176.2 L531.2 177.9 L529.7 178.5 L528.1 178.8 L526.6 179.5 L525.2 180.5 L523.7 181.5 L522.0 181.8 L520.7 182.9 L519.0 183.1 L517.5 183.5 L517.2 185.0 L516.0 185.4 L515.2 186.1 L515.3 187.4 L513.9 187.5 L513.0 188.0 L512.0 189.3 L510.1 189.9 L507.4 189.5 L504.0 190.0 L500.1 190.0 L496.1 189.0 L492.0 189.2 L488.4 190.0 L485.3 190.8 L483.0 191.8 L481.4 193.7 L479.6 196.3 L479.3 199.5 L479.0 203.0 L479.2 206.5 L479.5 209.9 L481.0 212.6 L480.9 215.0 L480.9 217.1 L481.8 218.7 L483.5 219.3 L484.5 220.5 L485.7 221.6 L487.3 221.9 L488.8 222.5 L490.6 222.2 L492.5 222.8 L494.7 222.8 L496.9 221.9 L499.4 221.6 L502.2 222.1 L504.8 221.1 L507.6 220.4 L510.1 219.1 L513.1 218.2 L516.2 216.8 L519.5 215.2 L522.2 212.5 L525.8 211.6 L528.5 209.5 L531.4 208.6 L533.2 207.0 L535.1 206.4 L536.7 206.1 L537.5 205.2 L538.0 204.3 L538.8 204.2 L539.2 203.8 L539.9 204.1 L540.0 203.4"/><path d="M490.6 222.8 L489.2 224.5 L487.0 226.4 L484.1 228.3 L481.7 231.5 L478.3 233.7 L475.2 236.2 L473.1 239.5 L471.4 242.4 L469.7 245.1 L468.4 248.0 L468.0 251.2 L467.3 254.3 L466.6 257.4 L465.6 260.3 L464.6 263.1 L463.6 265.7 L462.3 268.1 L461.0 270.5 L458.9 272.1 L456.9 273.8 L455.6 275.8 L454.1 277.7 L452.6 279.3 L452.1 281.4 L450.5 282.6 L450.0 284.2 L449.1 285.4 L448.4 286.7 L448.1 288.1 L448.0 289.5 L448.0 291.0 L448.2 292.7 L448.2 294.9 L449.1 297.2 L449.8 299.8 L451.6 302.0 L452.3 304.8 L452.9 307.7 L454.9 309.8 L455.5 312.3 L456.5 314.4 L457.7 316.4 L457.7 318.8 L459.5 320.4 L459.8 322.6 L461.6 324.1 L462.7 325.8 L462.9 328.1 L464.7 329.5 L466.3 330.8 L467.2 332.7 L468.5 334.3 L469.7 336.1 L471.8 336.8 L473.4 338.1 L474.8 340.1 L477.0 340.7 L479.4 340.6 L481.6 341.5 L484.1 342.0 L486.5 342.8 L489.2 343.0 L491.8 343.6 L494.5 343.8 L497.2 343.6 L500.1 344.1 L503.0 344.2 L506.0 344.2 L509.0 343.8 L512.0 344.2 L515.0 343.9 L517.9 344.0 L520.7 342.5 L524.1 343.1 L527.1 341.4 L530.4 341.8 L533.4 341.0 L536.0 340.3 L538.4 340.5 L540.0 339.5"/><path d="M347.9 379.6 L348.7 380.3 L349.9 380.7 L351.0 381.9 L352.4 382.9 L354.1 383.6 L355.8 384.7 L357.1 386.4 L358.2 388.3 L358.8 390.7 L360.2 392.9 L360.8 395.7 L361.3 398.7 L362.1 401.8 L362.7 405.3 L362.5 409.1 L362.8 413.1 L363.7 417.5 L364.2 422.5 L365.0 427.9 L365.2 433.5 L365.5 439.1 L364.7 444.5 L364.2 449.6 L363.8 454.3 L361.2 457.8 L359.7 462.0 L356.5 465.0 L353.6 468.2 L350.5 471.1 L348.3 474.8 L345.3 477.3 L342.3 479.4 L341.1 482.6 L339.1 484.4 L336.8 485.4 L335.0 486.9 L332.8 487.9 L331.1 489.9 L329.4 492.3 L326.7 494.8 L324.9 498.8 L322.3 503.1 L319.3 507.7 L316.9 512.9 L314.1 518.0 L311.2 522.7 L309.1 527.4 L306.2 530.9 L304.8 534.3 L303.6 537.2 L302.9 540.0 L301.5 542.2 L300.4 544.4 L299.1 546.5 L297.9 549.0 L296.1 551.4 L294.1 554.3 L292.2 557.8 L289.6 561.0 L286.7 564.1 L283.9 567.2 L282.7 570.9 L281.3 574.1 L280.7 577.5 L282.4 580.5 L284.3 584.1 L286.3 588.4 L289.8 591.8 L293.5 595.0 L297.1 597.7 L299.2 601.2 L301.4 603.3 L302.7 605.0 L303.6 606.4 L304.6 607.1 L305.6 607.2 L306.2 607.2 L306.4 607.5 L306.5 608.0 L306.8 608.2"/><path d="M260.5 443.8 L259.9 445.8 L259.3 448.6 L258.2 451.7 L256.4 455.0 L255.2 458.7 L254.4 462.5 L252.7 466.0 L252.7 469.5 L253.3 472.6 L252.8 475.4 L252.5 478.3 L253.6 481.0 L253.5 484.1 L255.0 487.2 L255.2 491.0 L254.9 495.3 L255.8 500.1 L256.2 505.6 L257.3 511.5 L257.5 517.7 L258.1 524.0 L259.2 530.1 L259.4 536.0 L260.5 541.4 L260.9 546.7 L262.7 551.5 L264.1 556.3 L265.9 560.9 L267.2 565.3 L267.8 569.9 L270.0 573.5 L271.4 577.2 L272.4 580.6 L273.0 583.9 L273.6 586.8 L274.9 589.3 L275.7 591.9 L277.9 593.5 L279.6 595.5 L280.9 598.3 L283.9 599.6 L286.9 601.8 L290.8 602.8 L294.7 603.9 L298.4 605.3 L302.0 606.1 L304.5 608.0 L306.8 608.2"/><path d="M319.6 592.8 L320.4 592.5 L321.4 591.8 L322.9 591.7 L324.4 591.4 L326.0 590.8 L327.5 592.0 L328.9 591.6 L329.6 592.3 L330.7 592.2 L331.2 593.0 L332.3 593.6 L333.1 594.5 L332.2 595.8 L332.4 596.5 L333.0 597.5 L332.2 597.5 L331.6 597.9 L330.7 599.0 L329.2 598.9 L327.6 598.6 L326.0 599.3 L324.6 598.7 L323.1 599.6 L322.1 599.1 L321.6 598.3 L320.4 598.0 L319.9 597.1 L320.1 595.9 L319.3 595.1 L319.6 594.2 L319.0 593.2 L319.6 592.8 Z"/><path d="M260.5 402.7 L263.5 403.3 L267.4 404.6 L272.2 405.6 L277.0 408.2 L282.7 409.2 L287.7 411.8 L292.9 414.2 L296.5 418.2 L300.2 422.4 L303.7 427.7 L307.5 433.4 L310.5 439.8 L312.2 446.6 L315.0 452.8 L316.7 458.8 L317.5 464.4 L317.1 469.4 L316.1 474.1 L314.5 478.7 L311.4 482.6 L309.2 487.1 L306.8 491.5 L303.6 495.6 L302.2 500.6 L299.9 505.6 L297.0 511.1 L295.7 517.4 L293.0 523.2 L290.4 528.6 L288.6 533.8 L287.9 538.4 L286.2 541.4"/><path d="M535.8 128.9 L535.4 128.0 L535.6 126.6 L534.7 125.3 L535.0 123.4 L533.6 121.9 L534.4 120.1 L533.7 118.6 L533.5 117.1 L534.3 116.0 L534.7 114.7 L536.2 114.2 L536.8 112.8 L538.5 112.6 L539.4 111.4 L540.4 110.3 L541.4 109.2 L542.9 108.6 L543.7 107.2 L545.4 107.0 L546.0 105.3 L547.5 104.8 L548.8 103.8 L549.9 102.5 L551.6 102.0 L552.7 100.4 L554.3 99.5 L555.7 98.2 L556.9 96.6 L558.5 95.4 L559.7 93.8 L561.3 92.7 L563.4 92.3 L564.4 90.6 L566.1 89.9 L567.1 88.2 L568.9 87.6 L570.3 86.4 L571.8 85.7 L573.2 84.6 L574.5 83.6 L576.1 83.4 L577.5 82.8 L578.9 82.4 L580.4 83.0 L581.7 82.2 L583.2 82.2 L584.8 82.9 L586.4 82.6 L588.2 82.7 L590.3 82.7 L592.5 81.8 L594.7 82.1 L596.9 81.9 L598.8 83.0 L600.5 83.2 L602.0 83.0 L603.0 83.4 L603.5 83.9 L603.9 84.3 L604.7 84.3 L604.2 85.1 L605.0 85.1 L605.2 85.8 L606.1 85.7 L606.9 86.1 L607.1 87.6 L608.1 88.0 L609.0 88.5 L610.4 88.2 L611.4 88.7 L612.5 89.2 L613.7 89.6 L615.1 89.9 L616.8 90.0 L618.6 89.4 L620.5 89.6 L622.5 89.9 L624.3 89.2 L625.8 90.2 L627.2 90.1 L628.2 90.7 L629.6 90.8 L630.4 91.7 L630.9 92.7 L632.0 93.3 L633.0 93.9 L632.3 95.2 L632.7 95.9 L633.5 96.6 L633.9 97.5 L632.6 97.9 L632.7 98.8 L633.0 99.9 L632.4 100.5 L632.1 101.3 L630.8 101.4 L630.9 102.6 L629.6 102.7 L629.1 103.6 L628.9 105.0 L627.7 104.9 L627.0 105.8 L626.1 105.6 L625.4 105.5 L624.3 106.0 L623.1 105.6 L622.8 103.9 L621.3 103.6 L620.8 102.2 L619.6 101.5 L618.6 100.6 L617.8 99.7 L616.8 99.4 L615.8 99.0 L614.6 98.9 L614.3 97.6 L613.3 97.4 L612.7 96.9 L612.5 96.0 L611.7 96.2"/><path d="M605.9 86.1 L605.9 87.0 L604.6 87.2 L604.8 88.7 L603.3 89.1 L602.5 90.2 L602.7 91.6 L601.9 92.7 L601.3 94.0 L602.1 95.3 L602.8 96.7 L603.9 98.0 L605.0 99.4 L605.6 101.2 L606.5 102.8 L607.6 104.1 L608.0 105.5 L608.7 106.5 L608.4 107.9 L608.8 108.8 L609.6 109.6 L609.8 110.5 L609.6 111.5 L609.8 112.4 L609.1 113.3 L609.9 114.4 L609.9 115.5 L608.9 116.4 L609.6 117.7 L608.8 118.6 L608.7 119.7 L607.8 120.2 L607.7 121.1 L607.1 121.4 L607.1 122.5 L606.2 122.3 L605.7 122.7 L605.2 123.0 L604.5 122.8 L604.0 122.9 L603.9 123.5"/><path d="M586.4 82.2 L586.7 83.0 L586.2 83.8 L585.7 84.8 L585.6 85.9 L585.4 87.1 L584.9 88.1 L584.9 89.1 L584.2 90.1 L584.8 90.7 L585.6 90.8 L586.1 91.5 L586.8 92.1 L587.6 92.5 L588.5 93.0 L589.0 93.9 L589.0 95.1 L587.3 95.8 L587.0 97.5 L586.9 99.6 L585.1 101.0 L583.6 102.5 L582.9 104.6 L582.1 106.6 L580.6 107.5 L579.4 108.6 L578.3 109.7 L576.7 109.9 L575.6 111.1 L573.7 110.5 L572.7 111.5 L571.6 112.3 L570.3 113.1 L570.0 114.5 L570.0 116.0 L569.7 117.5 L569.6 119.1 L569.6 120.7 L568.5 122.2 L568.4 123.7 L569.2 125.0 L569.4 126.1 L568.9 127.3 L568.9 128.4 L569.0 129.5 L570.4 130.0 L570.0 131.2 L570.4 132.1 L571.0 133.0 L572.0 133.5 L573.0 134.2 L573.3 135.8 L574.8 136.1 L575.6 136.9 L576.1 137.8 L576.8 138.4 L576.3 138.8 L576.5 139.8 L575.9 140.5 L574.8 140.1 L573.7 140.2 L572.5 140.1 L571.3 140.4 L570.0 140.3 L568.8 140.3 L567.7 141.1 L566.5 141.2 L565.2 141.8 L563.8 141.6 L562.5 141.2 L561.2 141.9 L560.2 140.9 L559.0 141.4 L558.4 140.8 L558.1 139.9 L556.8 140.6 L556.2 140.2 L556.3 139.3 L555.6 138.8 L555.9 137.7 L554.6 136.9 L555.4 135.1 L555.0 133.4 L554.6 131.4 L553.7 129.3 L553.3 127.1 L553.6 124.9 L553.3 122.9 L553.2 121.1 L553.2 119.6 L553.5 118.3 L554.1 117.2 L554.6 116.2 L555.1 115.2 L554.9 113.6 L555.9 112.5 L557.2 111.3 L558.7 110.1 L560.2 108.4 L562.0 106.7 L564.1 105.1 L566.4 103.8 L568.7 102.5 L571.2 101.6 L573.1 100.2 L575.0 98.8 L577.0 97.5 L579.0 96.0 L580.7 94.3 L582.6 93.2 L583.6 91.2 L585.5 90.9 L586.4 90.0"/><path d="M588.3 101.7 L588.0 102.2 L588.3 103.1 L587.7 103.9 L586.9 104.8 L587.2 106.1 L586.7 107.1 L586.9 108.4 L586.6 109.5 L585.6 110.5 L586.4 112.1 L585.8 113.3 L584.8 114.5 L584.8 115.9 L585.1 117.1 L584.2 118.2 L584.6 119.2 L584.5 120.0 L584.9 120.7 L584.9 121.4 L585.2 122.0 L585.9 122.3 L586.6 122.3 L587.4 122.7 L588.3 124.0 L589.8 123.7 L591.8 123.2 L594.0 124.3 L596.4 123.4 L598.7 123.1 L600.8 123.6 L602.6 123.1 L603.9 123.5"/><path d="M535.8 128.9 L536.3 129.1 L536.8 129.5 L537.7 129.5 L538.2 130.3 L539.3 130.1 L539.9 130.9 L540.8 131.3 L541.6 130.7 L542.5 131.0 L543.3 130.2 L544.5 130.2 L545.8 130.2 L546.6 129.3 L547.6 129.2 L548.5 129.1 L549.7 128.4 L549.8 129.9 L550.9 130.5 L552.5 131.1 L552.5 132.9 L553.7 133.8 L554.7 134.8 L554.3 136.4 L555.3 136.7"/><path d="M586.4 129.9 L587.9 129.5 L590.0 129.3 L592.2 127.8 L595.1 128.1 L597.6 126.7 L600.2 126.6 L602.4 126.8 L604.3 126.8 L604.9 128.2 L606.3 129.1 L606.9 130.7 L606.8 132.4 L607.3 134.1 L606.6 135.6 L606.7 137.2 L605.8 138.3 L605.2 139.8 L603.4 140.7 L601.7 142.0 L600.1 144.0 L597.6 144.3 L595.8 145.7 L593.7 145.8 L592.2 146.2 L591.0 145.9 L589.4 146.4 L588.3 145.4 L587.6 144.2 L586.9 143.1 L585.8 142.3 L584.4 141.8 L584.6 140.5 L583.7 139.6 L584.4 138.7 L585.0 137.7 L584.4 136.3 L585.9 135.7 L586.1 134.5 L585.9 133.5 L586.0 132.8 L586.3 132.2 L586.5 131.4 L585.9 131.2 L585.0 131.3 L584.5 130.7 L584.9 130.0 L585.7 130.6 L586.4 129.9 Z"/><path d="M543.6 132.8 L544.2 132.7 L544.6 133.5 L545.5 133.5 L546.0 134.4 L547.0 134.6 L547.9 135.1 L547.3 136.0 L547.8 136.7 L547.3 137.4 L546.5 138.2 L545.4 139.2 L545.3 141.2 L543.9 142.1 L543.2 143.3 L542.2 144.0 L541.6 145.1 L542.1 145.9 L543.5 145.7 L544.4 146.4 L545.2 147.7 L546.6 148.0 L547.9 148.0 L548.8 148.4 L549.4 148.7"/><path d="M542.1 144.9 L543.6 144.6 L545.5 145.8 L548.1 145.5 L550.7 146.6 L553.5 146.6 L556.3 146.1 L558.9 146.6 L561.1 146.4 L563.2 147.1 L564.9 146.2 L566.4 144.9 L568.1 144.4 L569.8 144.0 L571.4 143.6 L573.1 143.3 L574.7 142.8 L576.5 142.6 L578.4 142.2 L580.2 143.1 L582.2 142.9 L584.1 142.8 L585.6 143.8 L586.8 144.9 L588.7 144.3 L589.7 145.2 L590.0 146.5 L591.2 147.0 L591.8 148.0 L591.9 149.2 L592.5 150.2 L592.4 151.5 L592.6 152.6 L592.1 154.0 L592.1 155.4 L593.4 157.0 L592.6 158.5 L592.1 159.9 L591.5 161.3 L591.1 162.6 L590.6 163.8 L589.6 164.7 L588.5 165.8 L587.2 166.7 L585.4 166.6 L583.7 167.0 L582.0 167.3 L580.4 167.8 L578.6 168.5 L576.8 167.7 L574.8 167.5 L572.6 167.3 L570.5 166.6 L568.3 166.3 L566.4 165.4 L564.5 165.0 L562.9 164.9 L561.7 164.1 L560.6 163.8 L560.0 162.6 L558.9 163.0 L558.1 162.7 L557.5 162.2 L557.1 161.4 L557.0 160.4 L556.8 159.0 L556.9 157.2 L558.6 155.6 L558.7 153.3 L559.4 151.3 L560.3 149.5 L560.5 147.8 L561.1 146.8"/><path d="M592.6 152.6 L593.9 151.2 L596.0 149.5 L598.7 147.9 L601.5 145.9 L604.7 144.4 L607.3 142.6 L609.8 142.0 L611.7 140.7 L612.8 141.8 L614.3 142.4 L616.0 143.6 L616.7 145.4 L616.9 147.6 L617.2 149.7 L618.7 150.9 L619.2 152.5 L620.5 153.0 L621.1 154.2 L622.5 153.7 L623.1 154.6 L623.8 155.5 L625.2 155.1 L626.2 155.6 L627.6 155.9 L628.8 156.9 L630.1 157.9 L631.4 159.3 L633.3 159.7 L634.7 160.9 L636.4 161.6 L637.5 163.1 L638.6 164.3 L640.0 165.1 L641.6 165.7 L642.2 167.4 L643.1 168.7 L644.4 169.4 L645.8 169.9 L645.8 171.4 L646.7 171.7"/><path d="M603.9 123.5 L604.6 124.0 L605.4 123.2 L606.4 122.8 L607.6 122.8 L608.7 123.4 L609.6 124.1 L610.7 124.3 L611.2 125.3 L612.7 126.2 L613.1 128.1 L613.0 130.2 L613.5 132.4 L614.3 134.7 L614.3 137.0 L615.2 138.8 L616.1 140.3 L616.3 141.9 L617.3 142.8 L617.2 144.3 L618.2 145.0 L618.7 146.1 L619.4 147.0 L620.6 147.3 L621.4 148.3 L622.9 148.5 L623.5 150.3 L625.1 150.5 L626.3 151.7 L628.2 150.9 L629.6 152.1 L631.3 152.5 L633.1 152.0 L635.0 151.5 L637.2 151.3 L639.7 150.7 L642.4 150.9 L644.5 149.3 L647.0 149.7 L648.6 148.6 L650.0 148.4"/><path d="M631.1 101.7 L631.8 101.7 L632.6 101.7 L633.7 101.6 L634.8 101.6 L636.0 101.4 L637.0 100.8 L638.3 100.9 L638.7 99.9 L639.8 99.5 L640.4 98.5 L640.9 97.4 L640.6 96.0 L641.6 95.0 L642.3 94.0 L642.1 92.7 L642.6 91.7 L643.6 91.4 L644.7 91.6 L645.5 90.2 L646.5 89.8 L647.7 90.3 L648.7 90.4 L649.5 90.5 L650.0 90.0"/><path d="M530.0 148.4 L536.0 146.4 L542.1 144.9"/><path d="M555.3 183.1 L554.9 183.9 L556.2 184.3 L556.0 185.6 L557.3 186.2 L557.8 187.3 L558.3 188.5 L559.0 189.5 L559.2 190.8 L559.9 191.9 L561.2 192.6 L561.4 194.4 L563.0 194.8 L564.2 195.6 L565.2 196.6 L565.7 198.1 L566.6 199.1 L568.2 198.9 L569.3 199.3 L570.0 200.8 L571.3 200.6 L572.0 202.0 L573.2 201.7 L573.9 202.3 L574.8 202.3 L575.1 203.2 L575.9 203.2 L576.5 203.3 L576.4 204.2 L577.5 203.8 L576.9 204.3 L577.7 204.9 L577.0 204.7 L576.7 205.2 L576.0 204.7 L575.4 206.0 L574.4 205.4 L573.5 205.8 L572.4 205.4 L571.4 205.8 L571.1 206.7 L571.2 207.7 L570.8 208.6 L570.6 209.8 L570.1 211.0 L570.2 212.2 L570.1 213.2 L569.2 213.6 L569.3 214.0 L568.8 214.2 L569.4 213.4 L568.1 213.2 L568.3 212.2 L567.5 211.4 L568.1 210.1 L567.8 209.0 L566.7 208.5 L566.9 207.3 L566.6 206.4 L565.5 205.7 L565.1 204.8 L564.9 203.7 L564.8 202.4 L563.4 202.1 L563.2 200.8 L562.4 200.0 L561.3 199.5 L560.4 198.6 L559.6 197.5 L558.0 197.6 L557.5 196.1 L556.1 196.0 L555.6 194.8 L554.8 194.0 L553.4 193.9 L553.4 192.5 L552.9 191.6 L551.5 191.4 L550.5 190.9 L549.9 190.1 L549.9 188.4 L548.1 188.7 L547.9 187.0 L546.2 187.2 L545.6 185.8 L544.1 185.8 L543.1 185.0 L542.7 183.7 L541.2 183.4 L540.8 182.2 L540.9 180.8 L540.0 179.8 L539.7 178.6 L539.4 177.5 L537.8 177.0 L537.7 176.0 L537.8 175.3"/><path d="M537.8 175.3 L539.1 175.9 L541.0 176.0 L543.3 175.4 L545.7 176.4 L548.3 176.3 L550.8 176.9 L553.2 176.6 L555.3 176.6 L557.2 177.9 L559.0 176.8 L560.8 177.3 L562.3 176.0 L564.1 176.2 L565.6 175.4 L567.3 175.5 L568.8 174.8 L570.5 175.3 L572.1 174.4 L573.8 175.1 L575.3 174.7 L576.7 174.0 L578.3 174.0 L579.7 173.9 L581.2 173.9 L582.1 172.4 L583.4 171.4 L585.5 171.2 L586.8 169.9 L587.7 168.6 L587.9 167.3 L588.1 166.5 L588.1 165.8 L587.3 165.4 L585.9 164.8 L584.2 163.6 L582.0 163.3 L579.6 162.6 L577.2 162.5 L574.8 162.6 L572.8 161.4 L570.8 161.2 L568.7 161.2 L566.6 161.1 L564.5 160.8 L562.5 160.4 L560.5 160.6 L558.7 161.1 L557.3 161.8 L556.0 162.3 L554.9 162.8 L553.5 162.9 L553.2 164.2 L552.4 165.0 L551.6 165.9 L550.9 167.0 L549.1 166.9 L548.5 169.0 L546.4 169.4 L544.5 170.1 L543.3 172.0 L541.4 172.7 L540.1 174.0 L538.9 175.0 L537.8 175.3"/><path d="M588.3 165.6 L588.9 165.8 L589.3 166.4 L588.8 167.6 L589.2 168.3 L589.4 169.2 L590.8 169.9 L590.0 170.9 L590.5 171.9 L589.8 172.6 L589.4 173.6 L589.0 174.8 L587.6 175.2 L588.0 177.0 L586.5 177.5 L586.0 178.6 L586.4 179.6 L586.5 180.6 L586.3 181.9 L587.7 182.5 L587.8 183.9 L588.5 185.0 L589.8 185.5 L590.8 186.7 L592.3 186.8 L594.0 187.4 L596.1 187.8 L598.5 188.0 L601.1 187.5 L603.7 187.9 L606.1 187.6 L608.0 186.9 L609.8 187.1 L610.7 186.2 L612.2 186.4 L612.4 185.3 L613.2 184.8 L613.2 183.9 L613.4 183.0 L613.1 182.0 L613.1 181.1 L614.3 180.0 L613.7 178.8 L613.5 177.4 L613.3 176.0 L613.4 174.5 L612.2 173.5 L611.8 172.5 L612.0 171.1 L611.2 170.8 L610.8 170.1 L610.4 169.5 L609.7 169.1 L609.0 169.0 L608.1 170.1 L607.1 169.6 L605.8 169.0 L604.2 169.1 L602.4 170.3 L600.1 170.6 L597.8 170.8 L595.5 171.4 L593.4 171.5 L591.5 171.2 L590.3 171.8"/><path d="M611.7 181.5 L612.4 181.2 L613.3 180.7 L614.2 179.7 L615.6 179.5 L617.3 179.8 L618.6 178.8 L619.9 178.0 L621.4 177.6 L623.0 177.7 L624.6 177.4 L626.3 176.4 L628.1 177.0 L629.9 176.4 L631.7 176.4 L633.3 175.7 L635.0 175.5 L636.5 174.9 L638.2 174.3 L639.6 173.0 L641.3 172.4 L643.1 172.0 L644.1 170.6 L645.4 170.0 L646.8 170.1 L647.4 169.1 L648.0 168.8 L648.5 168.3 L649.4 168.7 L649.0 167.6 L649.7 168.0 L650.1 168.1 L650.0 167.5"/><path d="M613.6 181.1 L614.2 181.6 L614.2 182.5 L614.1 183.6 L614.7 184.6 L615.4 185.6 L616.1 186.7 L615.7 187.9 L615.8 189.0 L615.0 189.8 L614.9 191.2 L614.0 192.2 L612.9 193.1 L611.9 194.1 L611.9 195.3 L611.6 196.0 L611.6 196.8 L612.2 197.7 L613.5 196.9 L614.7 198.1 L616.3 197.8 L618.0 197.2 L619.8 197.5 L621.6 196.9 L623.3 196.5 L625.2 197.3 L627.1 196.6 L629.1 196.6 L631.2 196.4 L633.3 196.7 L635.3 196.2 L637.0 194.8 L638.9 195.2 L640.6 194.7 L642.2 194.1 L644.1 194.1 L645.4 192.9 L646.8 192.5 L648.3 192.5 L649.1 191.5 L650.0 191.2"/><path d="M605.9 201.0 L611.7 197.1"/><path d="M605.9 201.0 L605.9 202.0 L605.9 203.5 L605.5 205.3 L605.7 207.2 L605.8 209.2 L606.6 211.0 L607.5 212.5 L607.6 214.4 L608.9 215.4 L610.1 216.7 L611.7 217.6 L613.8 217.5 L615.6 218.3 L617.6 218.7 L619.4 220.1 L621.5 219.5 L623.5 219.6 L625.7 220.5 L628.0 220.1 L630.2 219.1 L632.7 219.6 L634.9 219.3 L637.0 218.7 L638.8 217.8 L640.7 218.5 L642.4 217.8 L644.1 217.8 L645.7 218.1 L647.0 217.6 L648.3 217.4 L649.1 216.2 L650.0 216.5"/><path d="M582.5 195.1 L583.0 196.1 L583.2 197.6 L584.4 199.1 L583.6 201.4 L585.1 203.1 L585.7 205.0 L586.1 206.8 L586.7 208.2 L586.4 209.9 L587.3 211.1 L587.8 212.3 L588.3 213.5 L589.2 214.3 L589.4 215.3 L589.4 216.5 L590.2 216.9 L591.0 217.2 L591.7 216.3 L592.5 215.9 L593.2 215.3 L594.5 215.2 L595.0 214.3 L595.7 213.5 L596.1 212.6 L596.3 211.5 L595.9 210.1 L596.1 208.3 L594.9 206.8 L595.4 204.8 L594.5 203.4 L593.6 202.0 L593.9 200.8 L594.5 200.3 L595.2 199.7 L596.1 199.7 L597.0 199.3 L597.8 199.1 L598.6 199.7 L598.3 199.5 L598.2 198.7 L597.1 198.2 L595.2 198.0 L593.0 197.6 L590.7 196.4 L588.0 196.5 L585.9 195.3 L583.7 196.0 L582.5 195.1"/><path d="M568.9 183.1 L569.9 184.0 L571.1 185.6 L573.3 186.6 L574.3 189.2 L576.8 190.2 L578.0 192.4 L579.8 193.4 L580.2 195.2 L581.2 195.4 L581.7 196.0 L582.1 195.7 L582.5 195.8 L582.6 195.5 L582.1 195.2 L582.2 194.8 L582.5 195.1"/><path d="M580.6 173.3 L579.9 173.9 L580.6 175.2 L579.2 176.0 L579.7 177.5 L579.6 178.9 L579.3 180.3 L578.2 181.7 L578.0 183.2 L579.0 184.5 L579.1 186.3 L580.1 187.8 L579.9 189.9 L580.8 191.5 L582.1 192.7 L582.8 194.0 L582.5 195.1"/><path d="M543.6 191.2 L544.1 190.6 L544.1 189.4 L544.7 190.3 L545.5 189.7 L546.1 190.1 L546.3 191.0 L547.0 191.7 L547.0 192.8 L547.8 194.1 L546.9 196.1 L547.9 198.3 L547.3 200.7 L548.3 203.0 L547.3 205.2 L547.0 207.0 L547.6 208.4 L547.8 209.6 L546.9 210.0 L546.3 210.0 L545.7 210.8 L545.3 210.2 L544.3 210.2 L544.3 209.3 L544.3 208.3 L543.7 206.9 L543.8 204.8 L542.9 202.4 L543.8 199.7 L542.8 197.0 L544.0 194.6 L544.1 192.7 L543.6 191.2 Z"/><path d="M557.2 212.6 L558.0 213.0 L559.1 212.3 L560.5 211.9 L562.0 212.0 L563.5 212.5 L565.0 212.3 L566.0 213.0 L567.3 212.2 L567.5 212.9 L567.2 213.5 L567.7 214.0 L567.8 214.6 L568.2 215.5 L567.8 216.1 L567.2 216.5 L566.4 216.0 L565.9 216.2 L565.1 217.2 L564.1 216.2 L562.9 217.4 L561.9 216.6 L560.9 215.9 L559.8 216.6 L559.5 215.6 L558.7 215.6 L557.6 215.8 L557.3 215.0 L557.1 214.4 L556.5 213.9 L557.1 213.4 L556.6 212.6 L557.2 212.6 Z"/><path d="M530.0 218.5 L531.0 218.7 L532.1 217.7 L533.6 217.1 L535.4 217.4 L537.0 216.5 L538.8 216.8 L540.3 217.0 L541.7 216.6 L542.8 216.4 L543.9 215.7 L545.0 216.3 L546.1 215.7 L546.9 216.6 L548.2 216.4 L548.6 217.5 L549.6 218.4 L550.2 219.9 L550.2 222.0 L551.1 224.3 L551.4 226.8 L550.6 229.5 L551.9 231.8 L551.9 234.2 L553.0 236.0 L554.8 236.7 L556.6 237.1 L558.6 237.6 L560.6 239.1 L562.9 238.3 L565.0 239.1 L567.0 239.5 L569.1 239.3 L570.6 240.4 L572.4 240.7 L573.7 241.8 L575.2 242.4 L576.7 242.8 L578.1 243.0 L579.3 243.6 L580.5 243.3 L581.4 243.0 L582.3 242.5 L583.8 242.3 L584.2 240.9 L585.4 240.3 L585.6 238.5 L587.2 238.9 L588.3 237.9 L589.9 238.2 L591.7 237.9 L593.7 238.3 L595.8 238.0 L597.8 239.1 L600.1 238.7 L602.1 239.2 L604.0 239.2 L605.7 240.0 L607.4 240.4 L609.0 240.4 L610.5 241.5 L612.3 240.6 L613.9 241.6 L615.7 241.3 L617.5 241.9 L619.6 242.4 L621.9 242.5 L624.4 241.8 L626.9 242.2 L629.3 242.8 L631.6 243.2 L633.3 241.7 L635.1 241.9 L636.4 241.2 L637.4 240.1 L637.3 238.6 L638.2 237.3 L638.0 235.7 L638.8 234.4 L637.9 232.7 L639.5 231.9 L639.3 230.5 L639.7 229.4 L639.7 228.2 L640.3 227.2 L641.4 226.6 L641.8 225.6 L641.8 224.3 L642.7 223.7 L643.3 222.8 L644.3 222.3 L645.4 221.8 L646.6 221.4 L647.9 221.9 L648.9 221.6 L649.6 221.0 L650.0 220.4"/><path d="M602.0 239.9 L602.3 244.9 L602.6 249.9 L602.5 255.0 L602.7 260.0 L603.2 265.0 L603.9 270.0"/><path d="M549.4 218.5 L549.3 220.1 L550.0 222.1 L549.4 224.5 L549.2 227.3 L549.3 230.2 L550.3 233.4 L549.3 236.6 L549.7 239.9 L549.6 243.5 L548.0 247.4 L547.9 251.8 L547.2 256.2 L547.4 260.6 L545.9 264.3 L545.3 267.5 L545.6 270.0"/><path d="M629.2 249.6 L629.5 250.5 L630.5 250.8 L631.5 251.5 L632.6 252.1 L633.9 252.7 L635.2 253.4 L635.8 254.7 L636.6 255.6 L637.2 256.8 L638.6 258.0 L638.3 259.9 L639.4 261.4 L639.3 263.2 L640.8 264.4 L640.0 266.0 L640.9 266.7"/><path d="M635.0 241.8 L635.4 247.5 L636.9 253.0 L636.9 258.8 L638.5 264.3 L638.9 270.0"/><path d="M537.8 216.1 L538.5 217.6 L538.5 219.7 L539.2 222.0 L539.4 224.8 L539.3 227.8 L540.2 230.9 L540.8 234.2 L541.8 237.5 L542.0 241.3 L542.7 245.7 L543.7 250.4 L544.2 255.2 L545.2 259.8 L546.5 263.9 L547.6 267.3 L547.5 270.0"/><path d="M630.0 103.1 L630.6 103.1 L631.5 103.1 L632.1 102.1 L633.3 102.0 L634.5 101.9 L635.5 101.3 L635.8 99.8 L637.1 99.6 L637.3 98.3 L638.1 97.2 L639.6 96.2 L639.7 94.5 L640.6 93.3 L641.0 92.0 L641.6 90.9 L642.5 90.3 L643.4 90.5 L643.8 91.6 L644.9 92.1 L646.2 92.8 L647.3 93.6 L648.0 94.7 L648.6 95.9 L649.6 95.9 L650.6 96.2 L651.5 96.1 L651.9 94.8 L653.2 94.9 L653.6 93.6 L655.1 93.9 L655.6 92.5 L656.6 92.1 L658.0 92.7 L658.7 91.5 L659.8 91.0 L661.1 91.5 L662.1 90.8 L663.4 90.9 L664.4 89.9 L665.7 89.8 L667.0 90.1 L668.2 89.2 L669.7 89.7 L670.9 88.3 L672.5 89.0 L673.7 87.9 L675.1 88.2 L676.3 87.3 L677.5 87.4 L678.8 88.3 L680.0 87.6 L681.2 88.0 L682.2 87.1 L683.3 87.2 L684.2 86.7 L685.3 87.2 L686.3 87.4 L686.7 86.6 L687.2 86.2 L688.1 86.6 L688.6 86.3 L689.0 85.8 L689.7 84.8 L690.6 85.5 L691.7 85.3 L692.9 86.1 L694.4 85.4 L695.8 86.0 L697.3 86.3 L698.8 86.2 L700.1 86.7 L701.2 87.3 L702.2 88.1 L703.6 88.3 L704.9 89.0 L705.5 90.5 L707.2 90.2 L707.4 91.7 L708.2 91.8 L708.5 91.5 L708.3 91.2 L708.0 90.2 L707.4 89.1 L706.2 88.1 L705.3 86.8 L703.5 86.1 L703.2 84.6 L702.6 83.5 L703.7 82.6 L703.8 81.6 L703.2 80.2 L704.2 79.4 L704.8 78.4 L704.9 77.1 L705.9 76.7 L706.8 76.7 L707.4 76.4 L708.3 75.8 L709.2 76.5 L710.3 76.1 L711.2 76.8 L712.2 77.0 L712.7 78.2 L713.6 78.3 L714.0 79.0 L714.7 79.7 L715.5 80.5 L715.1 81.7 L715.8 82.6 L716.2 83.6 L717.1 84.3 L717.7 85.0 L717.9 86.1 L718.4 87.1 L719.2 87.8 L720.4 87.9 L721.4 88.4 L721.7 89.4 L721.8 90.3 L723.1 90.5 L722.7 91.4 L723.6 92.0 L723.5 92.8 L723.9 93.6 L723.5 94.3 L723.2 94.9 L722.3 95.2 L722.2 95.6 L722.7 96.8 L722.0 97.2 L720.9 96.9 L720.8 98.3 L720.1 98.4 L719.5 98.4 L718.6 98.5 L718.8 98.0 L719.3 97.6 L719.7 96.9 L721.0 96.5 L721.0 94.9 L721.8 93.7 L723.4 93.2 L723.7 91.7 L724.9 90.9 L725.3 89.7 L726.1 88.7 L726.2 87.3 L726.6 86.0 L728.0 85.3 L728.3 84.0 L729.2 82.9 L730.0 81.9 L731.0 80.8 L731.3 79.2 L732.4 78.0 L734.0 77.2 L734.5 75.7 L735.2 74.4 L736.4 73.7 L736.7 72.6 L737.8 72.5 L737.7 71.3 L738.7 72.0 L739.0 71.5 L739.2 71.1 L739.7 71.8 L739.7 70.8 L740.0 71.0"/><path d="M713.8 147.7 L720.8 145.6 L728.1 144.1"/><path d="M669.2 162.0 L669.7 161.0 L671.1 160.9 L672.6 160.3 L673.9 159.3 L675.3 158.1 L677.0 157.9 L678.3 156.4 L679.9 156.4 L681.4 156.9 L682.7 157.6 L684.4 157.7 L685.9 158.4 L687.5 159.2 L689.3 159.3 L690.7 160.5 L692.4 160.5 L694.0 160.0 L695.6 160.1 L697.4 160.6 L698.9 159.8 L700.5 159.3 L702.3 159.8 L703.6 159.0 L704.9 158.4 L706.2 157.9 L707.5 157.3 L707.8 155.6 L708.9 154.8 L709.5 153.5 L710.6 152.9 L711.4 152.0 L712.4 151.6 L712.7 150.8 L713.0 150.1 L713.0 149.5 L713.4 149.1 L713.2 148.5 L714.1 148.4 L714.1 148.1 L713.8 147.7"/><path d="M630.0 162.0 L631.0 162.1 L631.8 160.6 L633.5 160.7 L635.0 160.1 L636.5 159.2 L638.1 159.2 L639.5 158.9 L640.6 158.7 L641.6 159.2 L642.8 159.6 L643.6 160.8 L645.3 161.1 L645.6 162.7 L646.4 163.8 L647.2 164.5 L647.8 165.0"/><path d="M639.7 219.3 L641.2 219.1 L643.3 219.1 L645.6 220.1 L648.2 220.7 L651.2 220.3 L654.2 220.6 L657.3 221.0 L660.5 221.3 L663.7 222.5 L667.4 223.3 L671.3 223.4 L675.3 223.1 L679.2 224.1 L683.1 224.0 L686.0 226.1 L689.1 226.9 L691.6 228.6 L692.3 231.3 L693.9 233.8 L694.6 236.7 L695.6 239.5 L696.1 242.6 L697.3 245.4 L699.0 248.1 L702.2 249.5 L704.7 252.7 L708.6 254.0 L712.2 256.2 L715.5 258.7 L719.3 260.1 L722.5 261.7 L725.2 263.4 L727.9 264.2 L729.9 265.9 L732.4 265.9 L734.1 267.4 L735.9 267.8 L737.6 267.9 L739.1 267.6 L740.0 268.5"/><path d="M668.2 216.7 L669.9 216.4 L671.7 214.6 L674.6 214.2 L677.4 213.0 L680.2 211.4 L683.5 211.0 L686.4 210.1 L689.0 209.0 L691.3 208.0 L693.6 207.4 L695.8 206.8 L697.9 205.6 L700.3 205.8 L702.6 205.4 L704.8 204.6 L707.2 204.3 L709.6 203.0 L712.6 203.5 L715.5 201.8 L718.6 202.1 L721.4 201.3 L724.0 201.5 L726.2 201.6 L727.8 201.1"/><path d="M647.4 234.8 L648.1 236.5 L649.5 238.6 L651.0 241.2 L652.7 244.0 L654.1 247.0 L656.2 249.4 L658.3 251.3 L660.3 253.3 L663.1 253.4 L666.3 253.1 L669.6 252.1 L673.4 251.8 L676.9 250.0 L680.4 249.0 L683.6 248.4 L686.4 248.1 L688.7 248.2 L690.8 247.8 L692.7 248.0 L694.4 248.1 L695.9 247.9 L697.2 248.0 L698.4 247.1 L699.3 247.8"/><path d="M704.5 185.6 L706.1 184.8 L708.5 184.0 L711.6 184.5 L714.7 183.6 L717.9 182.9 L720.8 182.1 L723.4 182.2 L725.5 182.6 L726.3 184.2 L726.5 186.1 L727.9 188.1 L728.5 190.6 L728.3 193.0 L728.0 195.3 L727.2 197.2 L727.8 198.5"/><path d="M539.7 230.0 L540.1 231.1 L541.4 231.8 L542.8 232.6 L544.0 234.0 L545.2 235.7 L545.6 237.8 L546.9 239.6 L546.8 241.8 L547.2 244.1 L547.5 247.0 L547.8 250.2 L547.1 253.5 L547.8 256.8 L547.7 259.9 L547.1 262.7 L547.5 265.0 L548.4 266.7 L549.1 268.1 L550.2 269.1 L550.3 271.0 L551.6 271.7 L552.6 272.8 L553.7 273.6 L555.3 273.7 L556.5 274.8 L558.1 274.8 L559.6 275.8 L561.3 276.2 L563.1 275.6 L564.7 275.8 L566.0 276.6 L566.9 277.7 L568.0 278.3 L569.2 278.9 L568.8 280.4 L569.4 281.3 L570.2 282.3 L571.1 283.4 L570.1 284.9 L570.8 286.4 L571.5 288.2 L571.1 290.3 L570.5 292.5 L569.9 294.8 L570.2 297.2 L569.6 299.6 L569.8 301.9 L569.2 304.0 L567.8 305.6 L567.6 307.7 L567.0 309.6 L565.5 310.9 L565.2 312.8 L564.3 314.3 L563.4 315.9 L562.9 317.5 L563.0 319.3 L563.3 321.2 L564.2 322.9 L565.4 324.5 L565.3 326.6 L566.9 328.0 L566.8 329.7 L567.1 331.1 L566.7 332.3 L566.5 333.3 L566.9 334.5 L566.0 335.1 L565.5 335.8 L565.1 336.9 L564.5 338.2 L562.7 338.5 L561.5 340.1 L560.0 342.2 L557.6 343.6 L554.7 344.4 L552.9 346.8 L550.7 348.1 L548.6 348.8 L547.5 350.0"/><path d="M547.5 241.7 L549.3 241.7 L551.6 240.9 L554.5 240.3 L557.3 238.6 L560.6 238.0 L563.8 238.7 L566.5 238.2 L569.1 237.2 L571.1 237.8 L572.7 239.0 L573.5 241.0 L575.6 241.8 L576.5 243.6 L577.6 245.1 L579.1 245.5 L580.7 246.1 L581.8 244.8 L583.2 243.7 L584.5 242.1 L586.8 241.2 L587.6 238.9 L589.9 238.2 L591.0 236.8 L592.1 235.4 L593.8 235.8 L594.8 234.4 L596.4 234.3 L597.8 233.6 L598.7 234.7 L599.7 235.6 L600.6 237.2 L602.6 239.6 L602.1 244.0 L603.1 249.8 L603.1 256.7 L603.8 264.2 L603.8 271.6 L603.9 278.4 L603.6 284.2 L604.5 288.4 L604.3 290.9 L603.4 291.6 L602.7 291.8 L602.3 291.1 L601.4 290.7 L601.3 289.2 L601.2 289.8 L599.6 290.1 L598.9 291.9 L598.6 294.3 L598.1 297.1 L596.5 299.8 L596.3 303.0 L595.2 306.0 L595.1 309.0 L593.5 311.7 L594.1 314.3 L594.7 316.9 L595.7 319.5 L595.4 322.3 L595.9 324.9 L596.2 327.1 L597.2 329.4 L596.3 331.2 L595.2 332.9 L593.2 333.7 L591.7 335.5 L589.3 335.9 L586.8 336.2 L584.6 337.2 L582.8 338.9 L580.8 339.5 L578.8 340.1 L576.6 340.0 L574.7 340.7 L572.8 341.3 L571.0 341.9 L569.4 342.3 L568.0 342.4 L567.0 342.8"/><path d="M567.0 277.6 L571.9 279.7 L576.8 281.8 L581.8 283.4 L586.8 285.3 L591.8 287.2 L596.8 288.9 L602.0 290.3"/><path d="M603.9 281.5 L605.5 281.7 L607.4 280.6 L610.0 281.4 L612.7 281.4 L615.5 280.7 L618.3 281.2 L621.0 280.1 L623.3 281.2 L625.6 280.7 L627.7 281.4 L630.1 281.2 L632.2 281.7 L634.1 282.2 L635.9 282.4 L637.5 282.2 L638.9 282.4 L640.3 282.7 L641.2 281.8 L642.4 281.5 L642.9 280.5 L643.5 279.4 L643.9 278.1 L643.5 276.5 L642.5 274.8 L641.7 272.4 L640.6 269.1 L638.5 265.7 L636.9 261.8 L635.8 257.6 L634.1 254.1 L631.9 251.6 L631.1 249.4"/><path d="M602.0 239.7 L603.5 240.3 L605.6 240.5 L608.0 240.9 L610.8 241.1 L613.7 241.0 L616.6 240.7 L619.1 242.0 L621.4 241.4 L623.4 242.0 L625.5 241.8 L627.4 242.2 L629.2 242.9 L630.9 241.9 L632.4 242.3 L633.9 242.3 L635.1 241.7 L636.5 241.4 L636.7 240.0 L637.9 239.2 L638.1 237.9 L638.8 236.7 L637.9 235.3 L638.3 234.4 L638.9 233.9"/><path d="M555.3 273.8 L554.6 274.8 L552.8 275.3 L552.2 277.6 L550.4 278.9 L548.3 280.0 L546.4 281.2 L545.4 283.5 L543.7 284.5 L541.9 285.4 L540.3 286.6 L538.5 287.6 L536.9 288.7 L535.7 290.3 L534.2 291.2 L533.2 292.2 L531.9 292.2"/><path d="M530.0 315.6 L530.7 316.2 L532.0 316.0 L533.2 316.7 L534.3 318.2 L536.0 318.5 L537.8 318.9 L539.6 319.4 L541.7 319.6 L544.0 319.8 L546.8 319.1 L549.9 318.5 L553.0 318.1 L556.1 317.7 L559.0 317.8 L561.3 317.2 L563.1 317.5"/><path d="M530.0 230.0 L530.8 231.0 L530.6 232.6 L530.4 234.5 L531.3 236.4 L532.3 238.4 L532.0 240.8 L533.2 243.1 L533.5 245.5 L533.2 248.1 L533.0 250.9 L532.4 253.9 L532.6 257.0 L531.9 260.1 L532.6 263.2 L531.3 266.1 L532.2 268.9 L531.6 271.3 L533.0 272.9 L532.2 274.7 L533.4 276.2 L532.9 278.2 L533.3 280.6 L533.6 283.9 L534.2 288.4 L534.4 294.5 L533.9 302.3 L532.5 311.1 L533.0 320.4 L531.8 329.5 L531.5 337.9 L531.0 344.9 L531.0 350.0"/><path d="M546.5 340.0 L546.6 341.4 L546.1 343.0 L545.5 344.9 L543.6 346.7 L543.8 349.2 L543.0 351.5 L542.9 353.9 L543.6 356.1 L544.4 358.2 L545.5 360.6 L545.9 363.6 L548.2 365.6 L548.8 368.8 L551.0 370.8 L551.8 373.4 L553.4 375.5 L553.1 377.9 L554.2 380.0 L554.2 382.2 L554.0 384.3 L554.6 386.4 L554.5 388.3 L553.9 390.2 L554.9 391.7 L555.2 393.2 L555.4 394.6 L556.7 395.1 L557.5 396.0 L558.3 397.0 L558.8 398.3 L559.3 399.7 L559.2 401.5 L559.6 403.8 L559.0 406.3 L559.9 409.1 L558.8 412.0 L558.2 415.1 L558.7 418.3 L558.7 421.3 L557.9 424.2 L558.1 427.1 L557.3 429.9 L556.6 432.7 L557.1 435.6 L556.7 438.4 L556.1 441.2 L556.5 444.0 L556.6 446.8 L556.7 449.7 L557.8 452.6 L558.6 455.5 L559.1 458.6 L559.9 461.5 L560.3 464.5 L561.7 467.1 L563.2 469.4 L563.9 471.8 L564.0 474.3 L565.1 476.3 L565.5 478.5 L566.2 480.5 L567.2 482.3 L568.9 483.7 L568.6 486.0 L569.8 487.5 L570.9 489.0 L571.7 490.5 L571.4 492.4 L572.9 493.6 L573.6 495.1 L573.9 496.9 L573.4 498.8 L574.4 500.6 L574.2 502.8 L575.2 504.9 L574.8 507.2 L575.1 509.4 L575.4 511.4 L575.0 513.4 L575.8 514.8 L576.6 516.0 L576.1 517.8 L577.3 518.5 L578.3 519.0 L579.1 519.5 L579.6 520.9 L580.8 521.1 L582.1 520.7 L583.7 521.4 L585.5 521.7 L587.5 521.1 L589.5 520.2 L591.8 520.0 L594.1 519.5 L596.3 519.0 L598.2 517.7 L600.5 517.9 L602.7 517.4 L604.8 516.4 L607.0 515.8 L608.8 514.3 L611.2 514.1 L612.6 512.3 L614.3 511.3 L616.1 510.7 L617.9 510.0 L618.4 508.0 L619.8 506.9 L620.7 505.6 L622.2 504.6 L622.9 503.1 L623.8 501.7 L625.4 500.6 L625.9 499.0 L627.0 497.5 L626.8 495.6 L627.7 494.1 L627.3 492.1 L629.1 490.8 L628.7 488.9 L629.7 487.4 L630.3 485.8 L631.5 484.5 L631.6 482.7 L632.9 481.4 L633.0 479.6 L633.0 477.7 L634.4 476.1 L634.0 474.1 L635.5 472.2 L635.1 470.0 L635.1 467.9 L636.4 465.9 L635.9 463.7 L636.5 461.7 L637.0 459.8 L638.0 458.1 L637.7 456.1 L638.8 454.7 L639.2 452.9 L640.8 451.8 L640.7 449.6 L642.5 448.6 L643.4 446.6 L645.3 445.2 L647.4 443.6 L649.7 442.1 L651.7 439.8 L654.1 438.3 L656.1 436.5 L658.8 435.8 L659.5 433.6 L660.5 432.3 L661.7 431.4 L662.3 430.4 L663.1 429.4 L662.2 428.1 L662.5 427.0 L662.5 425.7 L663.2 424.2 L663.0 422.4 L662.8 420.2 L663.3 417.8 L662.7 415.5 L662.7 413.1 L662.5 411.0 L661.3 409.3 L661.5 408.0"/><path d="M554.6 391.8 L555.8 392.9 L557.9 392.9 L560.2 393.2 L562.3 395.2 L565.2 395.1 L567.9 395.9 L570.2 397.2 L572.5 398.0 L574.3 399.7 L576.6 400.2 L578.9 400.2 L581.0 401.0 L582.9 402.1 L584.8 402.9 L586.8 403.7 L588.6 404.8 L590.5 406.1 L591.6 408.3 L592.2 410.8 L593.3 413.1 L594.1 415.6 L595.1 417.9 L596.4 420.0 L598.5 420.6 L600.3 421.5 L602.0 423.5 L604.4 423.8 L606.9 423.8 L609.1 424.8 L611.2 424.3 L613.0 424.2 L614.4 424.1 L615.5 423.5 L616.2 422.4 L615.5 420.9 L616.5 419.4 L616.3 417.8 L616.3 416.3 L616.9 415.4 L617.8 414.9 L619.2 413.5 L621.2 414.0 L623.4 414.3 L625.8 414.6 L628.2 415.0 L630.7 415.1 L632.0 417.0 L633.6 417.9 L635.3 419.3 L635.7 421.7 L635.5 424.3 L636.8 427.0 L636.6 429.9 L636.0 432.7 L636.3 435.2 L637.5 437.1 L637.3 439.0 L638.2 440.4 L638.3 442.0 L638.6 443.4 L639.9 444.2 L640.2 445.2 L640.5 446.1 L640.4 446.9"/><path d="M556.2 446.9 L558.8 446.8 L562.5 446.8 L566.7 447.4 L571.4 448.2 L576.2 448.7 L580.9 448.6 L585.1 449.8 L588.5 450.7 L591.4 450.7 L594.0 451.0 L596.0 452.2 L598.1 452.5 L600.0 452.7 L601.6 453.4 L603.1 452.9 L604.9 453.6 L606.0 452.4 L607.4 451.6 L609.1 450.8 L609.9 449.1 L611.0 447.7 L611.9 446.1 L613.1 444.8 L614.6 443.9 L616.5 443.5 L618.4 441.9 L620.9 442.2 L623.2 441.1 L625.5 440.8 L627.7 441.3 L629.4 440.8 L630.7 440.4"/><path d="M588.6 450.1 L588.0 453.4 L587.7 458.2 L587.7 464.0 L588.0 470.2 L588.1 476.3 L587.4 481.8 L587.5 486.3 L588.8 488.7 L589.8 489.5 L591.2 489.4 L593.3 488.5 L596.1 487.4 L597.8 484.5 L600.3 482.6 L602.6 480.6 L604.9 479.5 L607.0 478.5 L607.9 476.1 L609.7 474.8 L612.0 474.3 L613.7 473.0 L614.5 470.9 L616.2 470.1 L617.7 469.6 L619.2 469.0 L620.6 469.4 L621.9 470.0 L623.3 470.3 L624.5 470.4 L625.3 470.6 L626.2 470.4 L626.9 469.4 L628.4 467.4 L629.1 464.3 L629.0 460.6 L630.1 456.6 L630.3 452.6 L630.0 448.9 L630.5 445.8 L630.7 443.6"/><path d="M608.0 453.4 L611.6 458.5 L614.0 464.5 L617.7 469.6"/><path d="M572.4 495.5 L577.8 493.4 L583.0 490.6 L588.6 489.0"/><path d="M591.8 427.4 L592.3 433.1 L591.6 438.8 L592.0 444.5 L591.8 450.1"/><path d="M609.6 499.4 L610.3 499.0 L610.8 497.9 L612.1 498.1 L613.2 497.7 L614.2 496.4 L615.4 497.0 L616.5 496.5 L616.9 497.3 L617.2 497.8 L617.6 498.5 L618.7 499.3 L619.2 500.5 L618.5 501.7 L618.7 502.8 L619.1 504.0 L618.7 504.8 L617.8 505.0 L617.5 506.1 L616.3 505.9 L615.4 506.8 L614.4 507.0 L613.4 506.9 L612.6 506.7 L612.1 506.2 L610.8 506.4 L611.1 505.1 L610.0 504.4 L609.6 503.3 L609.8 502.0 L609.7 501.0 L609.6 500.1 L609.6 499.4 Z"/><path d="M546.5 340.0 L548.0 341.3 L551.0 341.7 L553.9 343.3 L556.9 345.3 L560.5 346.3 L563.8 347.5 L566.7 348.7 L569.1 350.1 L571.4 350.4 L573.4 350.0 L575.5 349.9 L577.2 349.1 L578.5 347.8 L579.9 347.1 L581.3 347.1 L582.1 346.5"/><path d="M553.0 375.6 L553.8 374.7 L555.6 374.7 L557.2 373.3 L559.2 372.4 L561.4 372.3 L563.3 371.4 L564.6 372.4 L565.4 372.6 L566.5 373.8 L567.1 376.1 L567.1 379.1 L566.3 382.1 L566.0 385.0 L566.0 387.3 L565.7 388.9 L566.0 388.6 L566.7 387.0 L566.1 383.9 L566.4 379.9 L567.4 375.4 L568.2 370.7 L568.9 366.1 L570.8 362.4 L572.1 359.1 L574.8 357.3 L578.1 356.0 L581.9 355.4 L585.8 354.7 L589.6 353.7 L593.2 353.5 L596.3 353.9 L598.3 353.0"/><path d="M617.7 414.5 L618.8 412.2 L619.1 408.8 L619.1 404.6 L620.5 400.3 L621.7 395.9 L622.1 391.6 L622.7 387.9 L624.8 385.6 L625.5 383.7 L625.6 381.6 L626.9 380.9 L627.9 380.4 L628.6 379.6 L629.3 378.9 L630.4 379.5 L630.7 378.9"/><path d="M672.8 472.8 L673.4 470.8 L673.1 468.5 L672.8 466.0 L673.5 463.5 L673.4 460.7 L675.1 458.4 L674.6 455.5 L675.8 453.2 L677.5 451.3 L678.3 448.6 L680.0 446.4 L681.9 444.2 L683.8 442.3 L686.0 440.7 L688.0 439.2 L688.6 436.9 L689.7 435.3 L691.5 434.0 L691.9 432.1 L692.6 430.6 L693.1 429.1 L694.0 428.1 L695.1 428.3 L695.6 426.9 L696.3 427.4 L696.5 428.3 L696.9 429.2 L697.4 430.3 L698.4 431.5 L698.0 433.2 L698.6 435.0 L699.0 437.2 L698.4 439.7 L697.5 442.6 L696.8 445.9 L696.8 449.6 L695.7 453.2 L693.7 456.5 L693.8 460.2 L691.8 462.9 L691.4 466.0 L690.4 469.0 L689.1 471.8 L687.6 474.4 L685.7 476.6 L685.4 479.4 L683.4 480.7 L682.7 482.7 L681.4 483.9 L679.8 483.8 L678.4 484.6 L677.0 484.8 L675.7 484.2 L674.8 483.3 L673.9 482.7 L672.9 482.4 L671.7 482.0 L672.4 481.0 L672.1 480.0 L672.5 478.9 L672.8 477.7 L672.1 476.1 L673.1 474.6 L672.8 472.8 Z"/><path d="M598.3 421.0 L597.5 421.4 L598.1 422.4 L597.7 423.4 L597.2 424.5 L596.6 425.6 L595.5 426.5 L594.0 427.6 L591.8 427.8 L588.8 426.9 L584.8 427.4 L580.2 426.6 L575.3 425.7 L570.4 425.3 L565.8 425.4 L562.2 423.9 L559.4 424.2"/><path d="M728.0 68.0 L729.1 68.1 L730.4 67.8 L731.7 66.9 L733.4 66.3 L735.1 65.8 L736.6 64.5 L738.5 64.6 L740.0 63.8 L741.5 64.3 L742.9 63.3 L744.3 63.9 L745.8 63.7 L747.2 64.4 L748.7 63.8 L750.2 64.5 L751.8 64.4 L753.4 64.2 L754.8 62.8 L756.7 63.5 L758.3 62.8 L759.9 62.3 L761.6 61.9 L763.2 60.7 L765.1 61.5 L766.8 60.8 L768.6 60.5 L770.4 60.1 L772.3 60.6 L774.2 60.5 L776.0 60.5 L777.8 59.5 L779.5 59.7 L781.2 59.6 L782.8 59.4 L784.3 59.8 L785.9 59.5 L787.3 60.8 L788.9 60.2 L790.5 60.2 L792.1 60.4 L793.7 61.6 L795.7 61.3 L797.6 62.0 L799.5 62.4 L801.2 63.4 L802.8 64.0 L804.4 63.4 L805.4 63.9"/><path d="M1054.1 393.1 L1054.3 393.7 L1054.4 394.5 L1055.4 394.9 L1055.5 396.1 L1056.3 396.8 L1057.4 397.2 L1057.4 398.5 L1058.2 398.8 L1059.1 398.7 L1059.4 399.6 L1059.9 400.2 L1060.7 400.0 L1061.3 400.2 L1061.8 400.4 L1061.7 401.1 L1062.2 401.4 L1062.8 402.1 L1062.5 402.9 L1062.1 403.8 L1061.0 404.4 L1061.0 405.5 L1061.5 406.5 L1060.3 407.5 L1061.6 408.1 L1061.2 409.2 L1061.9 410.0 L1062.2 411.1 L1063.3 411.8 L1064.4 412.3 L1064.8 413.6 L1065.4 414.7 L1066.3 415.5 L1067.7 415.9 L1069.0 416.6 L1069.9 418.1 L1071.2 419.0 L1072.8 419.1 L1073.4 420.6 L1074.1 421.2 L1074.8 420.8 L1074.8 420.9 L1074.7 420.2 L1074.2 419.4 L1072.7 419.6 L1071.9 418.8 L1071.0 418.1 L1070.7 417.1 L1070.0 417.0"/><path d="M1069.3 398.7 L1069.9 398.1 L1070.8 398.4 L1071.9 398.2 L1073.0 398.3 L1074.2 397.5 L1075.5 398.4 L1076.8 398.3 L1077.6 397.4 L1078.8 397.2 L1079.4 395.8 L1081.0 395.8 L1081.7 394.7 L1082.8 394.2 L1083.6 393.8 L1084.1 392.9 L1084.0 393.4 L1085.2 393.5 L1085.6 394.4 L1084.9 395.5 L1084.2 396.7 L1083.9 398.0 L1083.5 399.2 L1083.6 400.5 L1082.7 401.0 L1082.3 402.0 L1081.7 403.1 L1080.3 402.9 L1079.2 403.1 L1078.1 403.9 L1076.9 403.9 L1075.9 404.5 L1074.9 404.5 L1074.0 404.2 L1073.2 403.9 L1072.3 403.6 L1071.3 403.6 L1070.5 403.2 L1070.1 402.4 L1069.9 401.6 L1069.6 401.2 L1068.7 401.3 L1068.4 400.8 L1068.5 400.3 L1068.0 399.9 L1068.6 399.7 L1069.0 399.7 L1068.6 398.6 L1069.3 398.7 Z"/><path d="M1054.1 456.7 L1054.6 457.4 L1055.1 458.3 L1056.0 459.3 L1057.0 460.4 L1058.0 461.5 L1059.5 462.3 L1059.8 464.0 L1060.5 465.3 L1062.3 465.9 L1062.0 467.9 L1063.3 468.9 L1064.5 470.1 L1065.2 471.5 L1065.0 473.4 L1065.8 474.7 L1067.1 475.8 L1067.3 477.4 L1067.7 478.9 L1067.8 480.4 L1069.3 481.5 L1069.3 483.1 L1070.4 484.2 L1070.9 485.6 L1071.2 487.1 L1071.0 488.5 L1070.7 489.9 L1071.2 491.2 L1071.2 492.7 L1071.0 494.1 L1070.8 495.5 L1070.2 496.9 L1069.5 498.2 L1068.6 499.5 L1068.0 501.2 L1066.7 502.4 L1065.6 503.9 L1063.8 504.8 L1063.2 506.6 L1061.5 507.6 L1061.0 509.2 L1060.4 510.7 L1058.9 511.6 L1058.4 513.2 L1057.4 514.3 L1056.6 515.5 L1055.1 515.9 L1054.1 516.5 L1054.1 517.5"/></g></svg>
<div class="abs" id="panel"></div>
<svg class="abs" style="left:885px;top:28px" width="40" height="34" viewBox="0 0 40 34">
<circle cx="20" cy="17" r="11.2" fill="none" stroke="#4d6475" stroke-width="3.6"/>
<path d="M7.2 17 L7.2 30 L13 26 Z" fill="#4d6475"/>
<rect x="12.4" y="16.5" width="3.6" height="10.5" fill="#2fb3dc"/>
<rect x="17.9" y="13" width="3.9" height="14" fill="#2fb3dc"/>
<rect x="23" y="8.3" width="4.5" height="19" fill="#4d6475"/>
</svg>
<div class="abs" id="logo1"><span style="color:#2aa9d2">Credence</span> <span style="color:#5d6b77">Research</span></div>
<div class="abs" id="logo2">Actionable Insights Delivered</div>
<div class="abs" id="title">Fixed Series Compensation Market 2024 to 2032</div>
<div class="abs" id="ct1">Global Market Size,&nbsp; 2024 and 2032</div>
<div class="abs" id="ct2">(USD Million)</div>
<div class="abs" id="chart"></div>
<div class="grid" style="top:265px"></div>
<div class="grid" style="top:297px"></div>
<div class="grid" style="top:328px"></div>
<div class="grid" style="top:360px"></div>
<div class="grid" style="top:392px"></div>
<div class="grid" style="top:424px"></div>
<div class="grid" style="top:455px"></div>
<div class="bar" style="left:166px;top:381px;width:96px;height:75px;background:#34a0a2;"></div>
<div class="bar" style="left:361px;top:290px;width:96px;height:166px;background:#0782b2;"></div>
<div class="val" style="left:152px;top:357px;">292.9</div>
<div class="val" style="left:341.5px;top:266px;">423</div>
<div class="yr" style="left:154px;top:465px;">2024</div>
<div class="yr" style="left:349px;top:465px;">2032</div>
<div class="abs" id="card"></div>
<div class="abs" id="cres"></div>
<div class="abs" id="ring"></div>
<div class="abs" id="cagr1">CAGR</div>
<div class="abs" id="cagr2">4.7%</div>
<div class="abs" id="seg">
<b style="letter-spacing:0.28px;color:#111">Market Segments</b><br><br>
<b style="letter-spacing:0.15px;color:#111">Based on Type:</b><br>
<span class="bl">•</span><span style="letter-spacing:1.2px">Low Voltage</span><br>
<span class="bl">•</span><span style="letter-spacing:1.3px">Medium Voltage</span><br>
<span class="bl">•</span><span style="letter-spacing:1px">High Voltage</span><br>
<b style="letter-spacing:0.25px;color:#111">Based on Application:</b><br>
<span class="bl">•</span><span style="letter-spacing:-0.3px">Utilities</span><br>
<span class="bl">•</span><span style="letter-spacing:0.55px">Oil &amp; gas</span><br>
<span class="bl">•</span><span style="letter-spacing:0.8px">Others</span>
</div>
</body></html>
